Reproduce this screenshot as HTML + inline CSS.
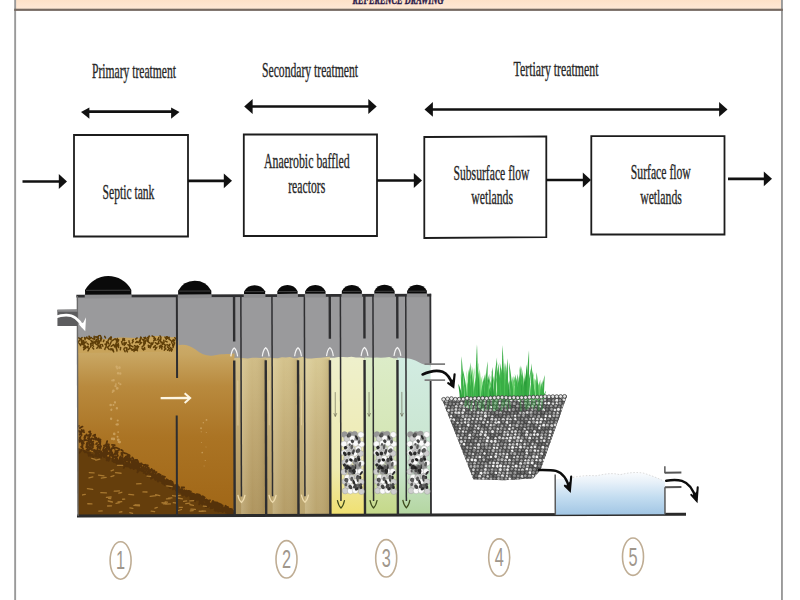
<!DOCTYPE html>
<html lang="en"><head><meta charset="utf-8"><title>Reference drawing - wastewater treatment train</title>
<style>
html,body{margin:0;padding:0;background:#fff;}
body{width:800px;height:600px;overflow:hidden;position:relative;font-family:"Liberation Serif",serif;}
svg{position:absolute;left:0;top:0;display:block}
.lbl{font-family:"Liberation Serif",serif;font-size:21px;fill:#262626;stroke:#262626;stroke-width:0.35px}
.num{font-family:"Liberation Sans",sans-serif;font-size:20px;fill:#a0978c}
.hdr{font-family:"Liberation Serif",serif;font-weight:bold;font-style:italic;font-size:12px;fill:#2a1848;stroke:#2a1848;stroke-width:0.4px}
</style></head><body>
<svg width="800" height="600" viewBox="0 0 800 600">
<defs>
<linearGradient id="peach" x1="0" y1="0" x2="0" y2="1"><stop offset="0" stop-color="#fde1c8"/><stop offset="1" stop-color="#fee8d6"/></linearGradient>
<linearGradient id="septic" gradientUnits="userSpaceOnUse" x1="0" y1="340" x2="0" y2="515"><stop offset="0" stop-color="#ccac6c"/><stop offset="0.08" stop-color="#c8a662"/><stop offset="0.26" stop-color="#b98a3e"/><stop offset="0.55" stop-color="#ab7424"/><stop offset="1" stop-color="#a06616"/></linearGradient>
<linearGradient id="c1" x1="0" y1="0" x2="0" y2="1"><stop offset="0" stop-color="#d0bc86"/><stop offset="0.5" stop-color="#bea670"/><stop offset="1" stop-color="#ae945e"/></linearGradient>
<linearGradient id="c2" x1="0" y1="0" x2="0" y2="1"><stop offset="0" stop-color="#d4c28c"/><stop offset="0.5" stop-color="#c2ac76"/><stop offset="1" stop-color="#b49c66"/></linearGradient>
<linearGradient id="c3" x1="0" y1="0" x2="0" y2="1"><stop offset="0" stop-color="#d8c994"/><stop offset="0.5" stop-color="#c6b27e"/><stop offset="1" stop-color="#baa46e"/></linearGradient>
<linearGradient id="c4" x1="0" y1="0" x2="0" y2="1"><stop offset="0" stop-color="#eef0cc"/><stop offset="0.7" stop-color="#eeeab0"/><stop offset="1" stop-color="#f0e070"/></linearGradient>
<linearGradient id="c5" x1="0" y1="0" x2="0" y2="1"><stop offset="0" stop-color="#dcecc8"/><stop offset="0.7" stop-color="#d2e4b0"/><stop offset="1" stop-color="#c4d888"/></linearGradient>
<linearGradient id="c6" x1="0" y1="0" x2="0" y2="1"><stop offset="0" stop-color="#d2ece2"/><stop offset="0.7" stop-color="#c8e4cc"/><stop offset="1" stop-color="#b4d6a0"/></linearGradient>
<linearGradient id="water" x1="0" y1="0" x2="0" y2="1"><stop offset="0" stop-color="#fafcfe"/><stop offset="0.22" stop-color="#e8f1f9"/><stop offset="0.6" stop-color="#c2dcf0"/><stop offset="1" stop-color="#a2c6e4"/></linearGradient>
<linearGradient id="hsh" x1="0" y1="0" x2="1" y2="0"><stop offset="0" stop-color="#fffbe0" stop-opacity="0.22"/><stop offset="0.45" stop-color="#fffbe0" stop-opacity="0"/><stop offset="1" stop-color="#5a3c00" stop-opacity="0.16"/></linearGradient>
</defs>

<rect x="16" y="0" width="766" height="9" fill="url(#peach)"/>
<rect x="14.2" y="0" width="1.9" height="600" fill="#9a9a9a"/>
<rect x="781" y="0" width="1.9" height="600" fill="#9a9a9a"/>
<rect x="14.2" y="8.7" width="768.7" height="2.2" fill="#766a62"/>
<text class="hdr" x="352.5" y="3.7" textLength="91" lengthAdjust="spacingAndGlyphs">REFERENCE DRAWING</text>
<polygon points="74,135 188,135 188,236.5 74,236.5" fill="#fff" stroke="#1c1c1c" stroke-width="1.8"/>
<polygon points="243.8,134.5 377,134.5 377,236 243.8,236" fill="#fff" stroke="#1c1c1c" stroke-width="1.8"/>
<polygon points="424.3,137 546.3,136.5 546.3,237.2 424.3,238" fill="#fff" stroke="#1c1c1c" stroke-width="1.8"/>
<polygon points="591.3,136.2 724.5,136.2 724.5,234.5 591.3,234.5" fill="#fff" stroke="#1c1c1c" stroke-width="1.8"/>
<text class="lbl" x="92" y="78" textLength="84.0" lengthAdjust="spacingAndGlyphs" style="font-size:21px">Primary treatment</text>
<text class="lbl" x="262" y="77" textLength="96.0" lengthAdjust="spacingAndGlyphs" style="font-size:21px">Secondary treatment</text>
<text class="lbl" x="513.6" y="76" textLength="84.9" lengthAdjust="spacingAndGlyphs" style="font-size:21px">Tertiary treatment</text>
<text class="lbl" x="102.6" y="199" textLength="51.8" lengthAdjust="spacingAndGlyphs" style="font-size:21px">Septic tank</text>
<text class="lbl" x="264" y="168" textLength="85.8" lengthAdjust="spacingAndGlyphs" style="font-size:21px">Anaerobic baffled</text>
<text class="lbl" x="288.2" y="193" textLength="37.0" lengthAdjust="spacingAndGlyphs" style="font-size:21px">reactors</text>
<text class="lbl" x="453.5" y="179.6" textLength="76.0" lengthAdjust="spacingAndGlyphs" style="font-size:21px">Subsurface flow</text>
<text class="lbl" x="471.2" y="203.8" textLength="41.8" lengthAdjust="spacingAndGlyphs" style="font-size:21px">wetlands</text>
<text class="lbl" x="630.8" y="178.6" textLength="60.0" lengthAdjust="spacingAndGlyphs" style="font-size:21px">Surface flow</text>
<text class="lbl" x="640.2" y="203.8" textLength="41.6" lengthAdjust="spacingAndGlyphs" style="font-size:21px">wetlands</text>
<line x1="88.4" y1="111.6" x2="172.1" y2="111.6" stroke="#111" stroke-width="2.7"/>
<polygon points="179.5,112.08 171.1,107.6 171.1,118.79999999999998" fill="#111"/>
<polygon points="81,112.08 89.4,107.6 89.4,118.79999999999998" fill="#111"/>
<line x1="251.6" y1="106.5" x2="369.3" y2="106.5" stroke="#111" stroke-width="2.5"/>
<polygon points="376.7,106.5 368.3,99.1 368.3,113.9" fill="#111"/>
<polygon points="244.2,106.5 252.6,99.1 252.6,113.9" fill="#111"/>
<line x1="431.9" y1="109.4" x2="720.1" y2="109.4" stroke="#111" stroke-width="2.5"/>
<polygon points="727.5,109.4 719.1,102.0 719.1,116.80000000000001" fill="#111"/>
<polygon points="424.5,109.4 432.9,102.0 432.9,116.80000000000001" fill="#111"/>
<line x1="22.5" y1="181.5" x2="59.8" y2="181.5" stroke="#111" stroke-width="2.7"/>
<polygon points="67,181.5 58.8,174.1 58.8,188.9" fill="#111"/>
<line x1="188" y1="180.8" x2="224.8" y2="180.8" stroke="#111" stroke-width="2.7"/>
<polygon points="232,180.8 223.8,173.4 223.8,188.20000000000002" fill="#111"/>
<line x1="377" y1="180.5" x2="414.8" y2="180.5" stroke="#111" stroke-width="2.7"/>
<polygon points="422,180.5 413.8,173.1 413.8,187.9" fill="#111"/>
<line x1="546.3" y1="180" x2="583.8" y2="180" stroke="#111" stroke-width="2.7"/>
<polygon points="591,180.0 582.8,172.6 582.8,187.4" fill="#111"/>
<line x1="728" y1="178.8" x2="764.8" y2="178.8" stroke="#111" stroke-width="2.7"/>
<polygon points="772,178.8 763.8,171.4 763.8,186.20000000000002" fill="#111"/><g transform="rotate(-0.17 380 515.2)">
<defs><clipPath id="c1clip"><rect x="78.6" y="296" width="98" height="219"/></clipPath><clipPath id="c12clip"><rect x="78.6" y="296" width="155.5" height="219"/></clipPath></defs>
<rect x="78" y="295" width="353" height="72" fill="#9a9a9c"/>
<rect x="78" y="340" width="101" height="175.20000000000005" fill="url(#septic)"/>
<path d="M177,345 C185,343 190,345 196,349 C202,354 208,356 214,355 C222,353 228,354 235,353 L235,515.2 L177,515.2 Z" fill="url(#septic)"/>
<path d="M234.7,357.5 L239.2,357.4 L243.7,357.6 L248.2,358.2 L252.7,357.4 L257.2,357.5 L261.7,357.6 L266.2,357.0 L266.2,515.2 L234.7,515.2 Z" fill="url(#c1)"/>
<path d="M266.2,357.5 L270.2,357.5 L274.3,357.7 L278.3,358.0 L282.4,356.9 L286.4,357.2 L290.4,356.8 L294.5,358.0 L298.5,357.8 L298.5,515.2 L266.2,515.2 Z" fill="url(#c2)"/>
<path d="M298.5,357.5 L303.1,356.8 L307.6,358.3 L312.2,358.2 L316.7,357.7 L321.3,357.7 L325.8,357.0 L330.4,356.7 L330.4,515.2 L298.5,515.2 Z" fill="url(#c3)"/>
<path d="M330.4,357.5 L334.7,357.5 L339.0,356.8 L343.4,357.0 L347.7,357.1 L352.0,356.7 L356.4,357.4 L360.7,357.4 L365.0,358.0 L365,515.2 L330.4,515.2 Z" fill="url(#c4)"/>
<path d="M365,357.5 L369.1,357.5 L373.2,357.7 L377.3,357.5 L381.4,357.8 L385.6,357.4 L389.7,357.1 L393.8,358.3 L397.9,358.3 L397.9,515.2 L365,515.2 Z" fill="url(#c5)"/>
<path d="M397.9,357.5 L409,358.5 C416,359.5 420,363.5 426,365 L431,365.3 L431,515.2 L397.9,515.2 Z" fill="url(#c6)"/>
<rect x="241.2" y="359" width="25.0" height="156.2" fill="url(#hsh)"/>
<rect x="272.7" y="359" width="25.8" height="156.2" fill="url(#hsh)"/>
<rect x="305.0" y="359" width="25.4" height="156.2" fill="url(#hsh)"/>
<path d="M78,447 L95,452 L115,458 L135,465 L155,474 L177,486 L195,496 L215,505 L234.5,510 L234.5,515.2 L78,515.2 Z" fill="#653e0c"/>
<path d="M208.4,503.3l1.0,1.5M123.5,451.6l-1.6,1.4M209.4,501.6l-3.2,0.4M79.1,429.9l-2.2,0.6M230.0,509.5l2.6,0.6M198.9,496.1l1.9,0.5M227.5,510.2l1.7,0.6M94.6,434.0l-1.3,1.0M165.1,479.6l2.4,1.7M99.2,449.8l2.1,0.8M111.8,448.6l-3.1,0.3M125.8,463.5l1.7,1.3M210.6,503.8l3.4,1.1M111.8,448.4l-1.5,1.3M124.6,452.3l2.5,0.7M116.4,456.1l0.9,2.1M226.7,508.7l-0.8,3.2M107.2,443.8l-3.0,0.9M117.4,450.2l-2.4,2.5M109.3,458.5l-2.5,1.0M143.9,464.3l3.5,0.4M115.7,457.3l2.2,2.3M170.9,482.1l2.5,1.5M89.6,436.0l-0.6,3.2M173.6,483.7l-1.6,0.4M81.6,433.0l0.2,1.3M106.1,447.6l-0.3,1.5M134.8,467.0l-2.8,0.2M185.4,491.6l1.2,0.5M81.8,449.1l-2.1,2.8M82.3,442.9l0.2,2.9M128.1,465.6l2.4,0.6M192.5,497.1l-2.0,2.1M201.2,501.3l1.3,2.5M217.7,508.0l0.8,3.0M212.0,504.0l-0.8,2.0M168.7,482.6l2.6,0.7M232.0,511.9l-1.4,1.6M192.2,495.1l0.6,3.2M91.9,449.1l2.6,0.2M153.1,471.0l-1.4,1.9M173.6,486.8l0.9,0.9M125.4,461.0l1.3,1.0M218.5,507.0l0.6,3.3M129.4,462.6l1.8,1.3M203.1,502.2l-2.0,0.8M168.8,481.0l2.2,1.0M207.9,503.9l-2.1,2.7M121.6,452.2l0.3,1.8M112.0,451.2l-0.9,2.2M127.6,463.7l-2.3,0.1M90.5,430.5l-1.2,0.5M188.1,492.9l1.8,2.6M81.9,429.1l0.2,1.2M206.8,499.4l1.2,0.6M175.9,485.9l-1.1,2.5M203.3,502.5l-0.9,1.4M152.2,470.0l2.3,0.1M189.0,490.9l1.3,1.5M186.4,491.7l-1.1,2.8M139.6,468.4l-1.3,0.4M222.6,508.6l2.1,0.9M175.3,487.7l1.0,2.4M214.4,506.5l-2.3,0.4M179.3,486.5l-2.0,2.4M177.8,488.3l2.6,2.1M230.0,511.8l-0.4,3.1M128.3,464.7l-1.8,0.9M91.7,442.4l-0.5,3.0M154.1,469.7l-1.1,0.8M202.2,496.8l1.5,2.7M100.6,440.0l-0.2,2.9M208.4,503.2l-2.3,0.4M225.2,506.0l1.9,1.6M123.7,460.9l-1.0,2.2M208.9,502.6l1.2,1.8M209.2,504.8l2.6,2.0M228.1,509.4l-0.4,1.6M161.5,477.8l-0.4,1.2M228.3,509.4l1.0,3.0M165.7,480.2l-0.8,1.1M162.0,477.5l-3.4,0.5M120.5,456.2l2.1,0.9M204.6,502.8l0.1,2.0M108.5,453.1l-1.5,0.4M199.0,494.0l1.4,1.0M184.8,489.8l1.2,2.4M95.2,449.9l2.2,0.9M117.6,450.4l-0.2,2.2M136.9,463.5l-0.1,1.6M110.5,454.1l-1.0,2.2M210.1,503.4l-1.6,0.8M193.1,496.9l-1.9,0.6M127.5,464.6l2.8,2.3M215.7,502.5l2.2,2.0M119.0,449.4l-1.9,1.1M200.7,495.8l0.9,2.7M81.7,431.1l-1.8,2.8M228.1,507.4l-0.1,3.0M156.4,476.0l1.1,0.8M95.4,433.7l-0.4,2.4M166.6,478.6l1.4,0.9M208.4,505.0l-1.4,0.3M88.5,452.1l0.4,3.0M129.3,460.3l-0.1,2.2M171.5,480.6l-1.9,2.6M106.9,449.6l-1.5,1.6M109.0,445.1l-0.0,1.2M216.6,507.3l-2.0,2.6M175.9,485.7l-0.7,2.3M230.3,511.2l2.3,2.5M193.6,497.0l-1.8,1.2M217.1,507.9l-1.7,2.5M196.8,496.2l-0.9,1.0M131.6,461.5l2.1,0.1M177.4,487.6l2.6,2.3M181.6,488.3l-1.2,2.3M161.1,476.9l-2.7,0.0M187.0,493.3l-1.3,0.1M173.8,486.1l1.5,1.6M86.8,433.6l0.5,1.3M117.6,460.7l-0.4,2.4M227.9,509.5l-2.7,0.0M203.7,496.6l-0.9,2.9M85.9,450.9l2.0,1.1M105.0,449.5l-0.5,1.3M224.6,507.7l-0.2,2.6M135.3,461.3l-1.2,2.2M122.7,460.3l0.7,1.0M116.7,446.9l2.7,1.4M139.1,469.0l-0.9,0.9M231.3,512.0l3.3,0.8M145.1,468.6l-1.8,0.2M159.6,479.2l-1.5,1.8M229.7,511.1l-0.5,1.4M175.1,485.5l1.1,0.8M160.3,474.5l0.5,2.8M149.2,469.0l-0.6,2.1M198.8,497.9l-3.5,0.0M192.1,492.8l3.1,1.2M199.8,498.9l0.8,1.7M184.5,491.0l-0.8,2.6M195.0,493.8l2.5,2.5M220.0,508.7l1.3,0.2M120.7,455.6l-0.5,1.3M162.4,475.4l2.7,0.8M163.8,479.9l0.9,2.2M111.4,449.8l-2.2,2.3M90.4,433.4l-2.2,1.5M197.4,495.0l0.4,1.8M203.7,499.0l-1.7,3.2M129.1,461.2l-2.4,2.4M144.9,467.5l3.1,1.0M91.1,432.7l-0.5,2.3M184.5,489.6l-1.1,0.9M111.8,455.1l1.9,0.5M190.6,494.9l1.0,1.2M134.1,465.2l0.6,1.4M188.2,493.0l-3.3,0.9M219.7,506.1l-1.6,1.1M127.9,458.9l-3.3,0.7M117.2,453.0l0.8,1.9M139.9,465.0l2.1,1.5M201.8,499.3l-2.2,1.3M106.2,454.5l-1.7,0.7M82.4,440.0l-0.4,2.5M227.8,509.9l-1.1,0.8M163.2,480.4l1.3,0.4M192.5,497.1l2.6,0.7M101.2,452.4l-0.8,1.6M112.9,457.1l-0.2,3.0M139.7,464.4l-2.8,0.3M155.0,474.2l-1.9,2.2M219.9,506.0l-2.4,1.5M210.4,504.8l-2.9,1.7M226.5,509.4l-0.2,2.9M202.5,498.8l0.4,1.5M193.1,497.9l0.6,1.5M110.5,450.7l2.1,2.8M88.1,437.4l2.6,1.0M198.5,495.3l2.3,0.4M168.9,484.2l1.5,0.2M107.4,445.3l2.2,2.0M170.6,481.5l1.6,1.0M105.6,454.3l1.4,2.1M204.8,500.2l2.3,2.4M219.8,505.5l-0.5,3.5M153.3,471.0l3.4,0.5M202.4,498.5l-0.2,2.4M121.3,463.1l-0.8,1.6M80.7,438.1l1.2,2.9M188.8,493.5l1.4,0.7M128.6,457.4l-2.2,1.0M177.1,489.0l1.7,1.8M102.2,453.2l3.2,0.0M209.3,504.4l1.8,0.5M189.3,490.4l0.1,2.3M226.1,509.0l-1.7,0.8M200.6,497.9l-1.4,0.4M206.3,498.9l-0.3,2.4M103.3,454.7l1.1,1.6M90.7,438.6l0.3,2.9M134.4,464.9l2.0,0.7M150.1,474.6l-2.4,1.4M80.9,435.7l-1.1,1.4M165.9,480.1l3.6,0.1M202.1,497.1l-0.7,1.8M136.9,464.8l1.2,1.6M139.4,467.2l1.2,1.2M191.6,493.2l-2.5,0.4M190.5,492.6l-1.2,0.7M100.7,438.6l-1.5,2.5M106.7,448.5l-2.3,1.3M92.9,437.7l1.3,0.7M141.7,462.6l-2.2,0.5M157.8,476.5l-2.4,2.1M138.4,463.6l0.3,1.2M140.7,468.1l-3.1,0.2M180.7,489.3l2.0,0.1M131.7,463.4l2.0,0.7M157.4,477.1l-2.3,1.4M103.4,453.6l-2.4,0.8M133.3,462.6l2.6,1.3M231.0,510.3l-2.0,2.5M109.4,458.5l-0.7,1.5M91.8,437.6l-0.7,2.8M129.7,465.4l1.0,2.1M98.1,455.5l3.1,1.4M162.7,478.8l-0.3,1.8M219.0,509.0l-2.2,1.4M97.9,452.7l2.1,2.6M116.1,455.6l-1.4,0.8M163.4,476.0l1.6,0.2M231.0,511.9l-0.9,1.7M182.4,490.8l1.0,2.4M202.8,495.6l1.9,1.4M101.0,445.5l-0.4,1.6M159.0,474.8l-0.4,2.0M177.8,484.7l-0.8,1.3M226.7,509.3l0.2,2.2M175.1,486.6l-2.2,2.1M153.8,476.4l-2.8,1.6M142.0,466.5l-0.7,3.3M160.0,477.0l0.7,3.3M128.4,454.2l-2.2,2.6M191.7,494.9l-1.4,1.4M170.4,480.3l2.1,0.9M156.4,474.1l2.8,0.5M160.0,475.2l1.2,1.8M115.3,446.6l-3.4,1.0M181.5,490.9l0.8,3.0M113.2,456.9l-0.7,3.3M94.2,450.8l2.3,0.9M225.5,505.3l1.4,1.3M129.0,454.8l-3.0,1.0M140.2,464.8l-0.3,1.3M83.8,449.5l1.4,2.0M222.8,509.9l0.1,1.7M124.5,463.5l-1.6,0.5M208.0,500.8l0.1,1.6M214.5,507.7l2.2,1.6M108.5,457.2l1.4,0.2M190.8,492.7l-3.1,1.0M188.8,490.5l-2.0,2.8M147.6,466.3l1.5,1.2M188.4,490.7l1.5,1.0M181.3,490.5l1.1,2.6M215.2,505.6l1.4,1.3M221.7,508.0l1.8,2.1M92.9,454.0l0.5,2.4M160.7,474.1l-0.6,1.8M117.6,459.4l1.8,0.5M195.4,494.4l1.6,1.9M107.7,457.2l-1.3,0.0M150.1,473.1l1.2,3.2M156.0,472.3l-0.5,2.7M134.4,464.7l-1.9,1.5M156.9,477.1l-1.3,2.1M225.5,506.7l-1.2,1.0M172.6,482.8l0.6,3.0M200.1,500.1l1.8,1.6M113.1,454.4l0.0,1.3M170.9,484.3l-0.7,3.2M106.7,443.5l2.4,0.1M145.9,468.7l2.1,2.3M90.2,451.7l-0.5,2.4M200.9,496.8l1.7,0.9M85.5,436.2l-0.9,2.3M119.8,457.4l3.0,0.9M105.4,445.0l2.5,1.4M207.0,503.1l2.1,0.4M135.1,460.4l-1.3,0.1M154.4,475.3l-1.5,0.1M149.1,472.6l1.8,0.2M216.1,502.7l0.6,1.8M144.4,464.3l3.6,0.4M196.5,498.1l1.4,1.2M164.0,477.6l0.4,3.4M135.1,461.8l-2.7,0.2M85.1,438.4l-0.6,1.2M131.9,463.9l-2.4,1.1M215.5,504.8l1.1,3.0M137.7,467.4l1.6,1.3M107.3,451.4l1.5,0.8M112.0,452.1l1.3,1.9M232.0,511.2l-1.5,0.7M138.0,460.3l-1.2,1.7M121.3,449.1l1.5,1.0M139.5,469.4l-1.2,1.4M134.6,459.4l-2.0,0.4M196.9,498.2l-1.2,0.4M128.6,459.0l3.2,0.9M129.1,463.6l-0.1,1.3M139.7,463.3l1.5,0.2M170.7,480.2l1.2,1.8M162.8,476.1l-1.1,1.5M190.7,494.8l1.5,0.8M122.2,460.1l0.6,2.0M212.4,501.8l1.2,1.6M112.2,444.1l2.7,0.2M166.2,482.1l-1.9,0.1M182.3,491.6l2.2,1.8M181.7,491.4l-1.6,0.7M176.4,484.2l0.5,2.1M88.3,439.4l1.2,2.1M122.1,452.3l0.7,2.2M104.7,452.3l1.0,1.0M131.6,461.0l2.3,1.2M187.0,492.2l-0.7,1.0M139.3,464.4l2.1,0.4M87.4,441.7l-0.6,2.2M129.1,457.6l2.0,0.2M216.3,505.8l1.9,2.1M107.6,450.2l-1.2,3.3M134.8,464.1l-3.0,0.5M175.6,486.6l0.6,2.1M121.5,461.3l-2.0,0.8M219.1,503.0l2.2,1.0M126.5,457.7l-1.6,0.1M108.6,446.2l-0.9,1.5M79.1,439.3l0.6,1.7M155.0,474.9l-0.4,2.7M165.4,481.8l-2.0,0.2M132.4,466.0l1.6,2.4M186.1,492.5l-3.2,0.4M103.6,451.1l0.1,2.6M135.9,461.7l-1.7,1.8M115.5,450.2l0.9,1.4M158.1,473.2l1.3,0.3M94.7,449.2l2.1,0.8M197.9,497.2l2.9,1.6M213.0,500.5l1.7,1.7M201.7,498.2l-1.1,1.4M189.2,492.0l1.5,2.6M208.8,504.2l-0.5,2.2M187.9,493.1l-2.7,1.6M98.3,444.0l-0.9,1.5M107.4,440.3l-0.9,3.3M228.4,507.6l-1.2,1.8M176.2,485.9l-3.5,0.7M86.5,446.3l1.2,0.5M123.1,460.7l-1.5,0.0M129.8,454.6l-0.3,2.3M136.5,462.3l-2.6,1.9M122.7,456.1l-1.1,2.8M230.1,509.5l-1.4,2.1M202.2,496.6l1.2,0.8M222.8,506.1l0.1,1.5M128.8,453.8l-0.3,1.5M175.3,484.7l1.8,1.5M135.3,461.1l1.3,0.2M216.5,504.1l1.6,0.4M153.4,476.3l2.6,1.9M153.6,472.6l-1.8,1.2M87.9,443.2l-1.3,2.4M121.7,462.6l-3.3,1.5M147.3,472.4l-1.1,1.2M83.1,430.8l1.3,0.5M134.3,465.5l1.4,2.0M80.6,430.7l-1.2,0.2M160.2,478.8l-2.4,1.8M140.5,468.9l-2.6,1.6M230.8,508.4l-2.1,0.3M187.6,490.7l-1.2,0.4M167.8,479.9l0.7,2.0M180.2,489.9l1.1,2.5M133.5,460.3l-1.9,0.6M93.5,440.7l-1.2,1.2M193.5,495.5l-0.9,1.4M95.3,436.9l1.0,2.0M80.5,438.8l0.6,1.9M161.7,480.4l2.7,2.0M128.4,463.1l3.4,1.2M145.2,472.3l1.7,1.4M187.7,490.3l1.8,2.1M224.9,507.3l1.7,1.1M231.4,508.9l-0.9,1.9M178.2,486.0l-1.2,3.1M210.9,503.9l-0.0,2.6M96.6,452.5l-1.3,1.9M181.5,488.7l0.6,1.6M171.5,484.0l-0.1,1.3M175.6,485.7l-0.8,2.5M222.5,505.3l0.4,3.6M192.7,493.6l-2.4,2.6M140.9,469.6l3.3,1.4M154.6,471.9l-2.4,1.3M223.4,509.4l-2.0,1.4M232.0,508.7l-2.7,1.2M117.6,459.4l0.4,2.5M212.3,501.5l1.8,2.1M90.3,444.3l-1.9,1.5M116.2,458.8l-2.7,1.3M163.6,481.2l-1.3,0.9M135.3,459.1l2.0,0.2M212.2,505.8l1.5,0.6M138.8,468.5l-1.2,3.1M90.1,453.3l2.2,1.6M214.0,505.9l2.3,1.6M145.3,464.1l0.9,1.7M176.0,485.1l-0.9,2.7M106.8,443.0l-1.3,1.9M98.9,438.2l-2.6,0.5M134.1,459.6l-2.9,0.0M192.4,493.8l1.2,1.8M101.5,450.5l0.7,3.1M142.0,466.7l-0.1,3.5M132.3,464.2l1.9,1.7M122.9,462.3l2.0,2.5M183.2,489.8l-2.1,0.4M193.5,495.8l0.2,1.3M143.5,466.0l0.6,3.4M124.1,460.7l-0.9,1.5M142.4,463.7l-1.7,0.6M143.8,466.7l-2.7,1.7M170.0,483.0l3.2,1.0M92.6,441.0l1.1,2.7M182.1,488.6l-3.3,1.1M82.6,442.9l0.2,2.1M150.6,470.2l-1.4,2.3M228.4,511.4l-2.1,0.0M206.6,502.1l-2.1,2.9M89.2,441.7l0.8,2.6M112.6,460.1l1.7,1.3M101.0,445.7l-1.0,1.0M104.7,452.1l-1.1,2.8M118.0,459.6l-2.0,2.3M97.4,445.6l3.3,0.2M224.5,510.0l2.0,0.2M161.5,478.0l2.9,1.1M125.4,459.0l2.4,1.0M99.0,437.5l-0.1,1.9M198.7,495.9l0.4,1.3M112.5,452.1l-0.4,2.3M210.0,499.7l-1.4,0.7M228.4,509.5l0.8,2.6M212.0,506.5l0.3,1.2M102.7,454.2l-2.0,2.2M103.1,449.3l1.5,0.1M125.3,464.2l-1.4,2.9M86.1,439.2l1.8,0.4M96.2,453.9l1.2,2.0M179.7,490.0l-2.5,0.4M156.1,477.1l0.6,1.8M192.9,493.3l0.9,2.0M152.4,471.6l0.5,2.2M86.6,449.1l2.4,0.5M163.3,478.2l1.1,0.9M136.3,462.2l0.1,1.8M194.4,495.6l2.2,0.1M227.8,506.5l-1.0,3.4M135.3,464.5l0.8,1.8M172.8,484.8l1.3,2.0M158.5,477.5l1.4,0.2M117.8,451.8l-1.8,1.3M211.4,502.7l1.8,2.2M92.2,453.9l-1.7,1.0M127.9,463.6l-2.2,1.7M87.7,447.9l2.7,0.4M164.0,481.6l-0.5,1.1M222.9,508.8l-0.3,1.2M192.5,494.2l-1.9,3.0M220.2,503.8l-1.7,1.4M194.7,495.0l0.4,2.2M97.2,442.2l-0.9,1.0M96.8,452.5l-1.3,2.2M96.4,436.8l2.0,2.9M165.3,482.2l1.7,1.4M161.6,479.7l3.1,1.2M151.7,468.3l0.4,2.1M182.9,491.9l0.1,2.9M138.8,467.9l2.8,1.0M104.6,450.9l1.6,1.2M104.2,446.3l-0.7,2.3M138.8,466.1l-1.8,1.0M168.9,482.0l-2.0,0.1M186.4,490.0l2.0,2.2M167.5,479.9l3.1,0.6M137.1,466.5l0.6,2.6M165.2,482.4l-2.2,0.6M154.0,471.5l-1.0,1.0M126.2,463.3l2.9,0.3M166.5,481.0l0.8,1.4M225.4,509.6l-1.2,0.8M199.7,496.1l2.0,1.5M172.9,482.3l-1.9,1.7M217.5,508.2l-1.2,1.7M225.5,509.4l2.0,2.6M190.9,492.4l0.9,0.9M161.7,476.3l1.1,1.4M99.3,446.7l1.2,1.4M121.7,457.3l-1.5,0.6M211.4,505.5l-0.8,2.4M192.0,494.7l-1.6,3.0M198.4,495.8l3.4,0.6M134.9,466.1l1.7,1.5M136.1,466.1l-2.4,0.4M166.2,479.6l2.6,2.3M96.0,454.2l-0.7,1.2M217.9,503.1l-0.3,1.5M231.3,509.6l-1.2,0.5M181.6,486.7l2.6,0.2M230.4,510.8l-2.8,1.4M159.3,473.5l-0.1,1.6M160.1,476.0l0.0,1.7M187.6,491.7l0.1,1.4M154.0,473.8l-2.5,0.2M99.8,443.1l1.4,2.5M223.6,510.1l-3.4,0.5M211.2,505.9l2.4,0.2M170.0,483.7l-0.9,2.5M222.7,504.9l-0.2,3.5M83.9,429.4l-3.2,1.4M82.7,425.7l-2.5,1.5M159.0,476.8l-2.3,2.2M79.1,425.0l-2.8,2.1M207.3,500.9l1.0,1.8M81.3,445.7l1.8,1.9M160.0,475.9l-1.2,2.0M115.1,459.5l1.3,0.8M118.0,455.1l-1.6,1.3M115.7,456.5l1.7,1.8M118.3,460.6l1.5,1.0M125.4,456.7l-1.8,2.1M200.7,498.8l2.9,0.7M116.6,450.3l1.0,3.4M136.1,462.5l-3.4,1.0M138.6,461.5l-2.4,1.9M131.1,464.6l0.7,1.8M170.4,484.2l0.2,3.2M81.1,439.0l0.5,1.3M219.8,504.2l2.6,2.0M226.9,510.8l1.6,3.0M100.8,451.7l-1.6,0.3M99.9,450.7l-2.7,1.1M225.2,508.1l0.6,1.4M121.0,462.4l1.6,0.4M132.5,456.7l0.9,1.3M97.9,447.0l-0.3,2.5M196.4,496.8l-1.4,0.2M113.3,445.6l1.7,2.5M221.3,507.0l1.7,1.0M166.5,479.5l-2.8,2.1M149.8,472.0l-2.1,1.1M108.4,458.2l-1.3,0.1M196.5,496.0l1.6,0.3M105.6,453.9l1.0,0.8M112.8,457.5l0.0,2.8M150.6,469.1l1.9,0.1M85.4,434.7l-0.8,1.9M151.8,473.2l1.1,1.7M215.1,505.5l0.6,2.4M149.9,470.0l-1.7,0.5M223.1,509.4l-1.5,0.6M157.4,478.2l1.0,1.3M190.4,492.0l-0.4,1.5M224.9,507.1l2.7,0.9M132.5,462.8l0.0,3.4M158.2,475.1l2.4,0.0M120.4,457.5l-0.9,2.1M92.9,444.1l0.2,2.7M228.4,508.4l0.3,1.4M202.2,497.3l-2.7,1.6M118.2,460.9l-0.0,2.2M164.5,481.9l0.1,2.4M123.8,462.3l-0.0,2.0M109.3,446.2l-2.7,1.6M229.7,511.5l-1.7,2.6M188.6,494.5l-1.3,0.9M204.5,498.8l2.5,2.4M82.5,439.9l1.5,2.7M173.0,486.4l-2.7,0.6M88.9,446.2l3.3,1.2M213.2,502.8l2.4,1.6M195.7,499.3l-0.6,1.4M190.9,490.8l-2.8,1.2M199.9,500.5l-0.7,3.4M177.4,487.0l0.7,1.9M82.5,430.2l-1.4,1.0M179.7,489.5l-1.4,2.0M127.7,457.1l2.3,1.5M184.7,493.0l1.7,3.0M219.4,505.1l-2.7,0.4M227.2,510.2l0.9,1.6M159.5,476.5l3.2,0.4M161.5,477.6l-1.3,1.3M109.7,453.0l1.4,1.4M89.8,430.8l1.1,2.2M225.1,509.0l0.6,2.1M115.2,453.7l-1.5,0.2M145.7,470.5l-1.9,1.7M177.7,489.2l-1.7,0.5M162.3,481.0l-0.1,1.6M197.0,493.5l2.2,1.1M121.0,459.7l-1.3,1.5M197.1,497.9l-1.4,1.8M145.6,465.4l0.3,3.5M215.8,501.8l1.8,0.4M185.9,491.1l2.0,0.9M167.3,482.4l0.8,2.6" stroke="#55320a" stroke-width="1.8" stroke-linecap="round" fill="none" clip-path="url(#c12clip)"/>
<path d="M165.2,501.2l2.2,0.4M96.1,459.4l3.9,-1.0M89.1,476.9l3.9,-0.8M199.2,510.7l3.9,0.2M119.4,511.4l2.5,-0.4M107.6,505.2l4.0,-0.2M129.9,507.1l3.0,0.6M168.5,497.4l3.5,-0.1M136.6,483.1l4.5,-0.2M118.0,501.0l3.8,-0.1M189.9,504.0l3.5,0.8M202.0,510.3l3.6,0.3M172.6,494.9l4.9,0.9M162.0,502.1l3.7,0.3M108.2,500.2l4.2,1.0M122.7,498.5l2.1,-0.2M175.8,495.3l4.5,-0.6M129.8,511.9l2.8,0.8M87.5,487.8l5.3,0.7M128.9,493.6l4.8,0.5M173.3,502.0l3.0,0.4M150.2,495.6l5.9,-0.7M177.6,497.4l4.9,0.9M114.3,490.4l4.1,-0.0M100.9,491.8l5.6,0.3M116.1,502.5l3.7,-0.7M155.7,494.0l4.1,1.0M151.2,510.5l3.4,0.5M89.4,471.7l4.8,0.4M183.6,500.7l3.1,-0.3M147.2,475.4l3.5,0.3M98.6,474.2l5.5,0.9M111.2,470.0l2.5,-0.8M179.3,506.7l3.1,-0.0M166.9,485.3l5.3,0.7M106.4,496.5l4.8,-0.3M189.8,500.4l3.9,-0.4M135.2,504.1l4.3,0.2M203.4,505.7l2.9,0.2M98.8,510.2l3.4,-0.1M133.9,504.7l5.7,0.4M101.4,477.2l4.8,-0.6M190.3,510.3l2.9,-0.3M108.6,497.5l2.2,0.4M87.8,502.9l4.2,0.2M91.9,457.6l3.4,1.0M155.0,507.5l2.3,-0.8M82.6,494.1l2.7,-0.5M163.4,503.2l3.3,-0.1M116.1,490.4l3.4,-0.3M111.1,475.8l3.0,-1.0M118.8,492.3l3.1,-0.8M185.8,503.0l4.0,-0.4M190.9,508.6l4.5,0.3M166.5,498.3l3.7,-0.2M143.0,491.2l4.1,0.1M178.6,509.9l2.9,-1.0M117.6,464.5l5.2,0.2M115.7,471.8l5.5,0.7M165.5,503.4l5.0,-0.1" stroke="#a87830" stroke-width="1.3" stroke-linecap="round" fill="none"/>
<path d="M78,338 C90,334 100,340 112,338 C125,335 135,339 150,336 C160,334 170,338 177,336 L177,351 L78,352 Z" fill="#c8a35a"/>
<path d="M117.5,343.6l-2.2,2.3M167.9,346.2l1.3,1.0M173.2,343.4l-0.0,1.8M162.6,341.4l-1.1,0.7M175.3,337.1l1.4,1.4M141.0,337.4l-0.3,3.1M121.2,346.7l-0.4,2.3M95.8,340.4l-1.9,1.7M100.0,340.1l-0.1,1.9M135.0,344.9l1.4,0.8M142.7,338.5l2.2,1.7M111.4,347.7l-0.1,1.4M140.8,339.4l-1.6,2.1M152.6,335.3l2.4,1.5M92.6,337.4l1.3,0.8M124.9,349.4l0.7,1.6M159.3,336.9l-0.6,2.3M169.7,336.6l-0.2,2.0M158.9,337.8l-0.7,1.4M127.0,349.6l0.9,1.5M168.0,344.2l1.3,0.9M102.0,338.2l-1.7,2.0M174.0,345.1l-0.5,1.9M148.6,341.1l1.8,1.3M116.3,343.2l1.0,0.7M174.3,341.4l0.6,1.4M136.5,348.2l1.4,1.7M127.5,347.1l-0.2,1.7M97.4,343.6l2.3,1.8M82.2,338.8l0.3,2.9M139.1,345.7l-1.3,2.3M84.0,346.5l1.1,1.1M82.6,336.7l-1.4,1.4M87.4,336.2l-1.6,1.8M167.9,336.2l1.3,1.2M97.5,335.9l1.5,2.0M95.3,336.7l-0.1,1.9M93.5,341.9l0.0,2.0M125.0,338.0l-0.3,1.5M111.6,335.9l-1.7,1.7M117.0,343.4l-1.1,0.9M116.2,345.4l0.7,2.5M167.1,336.1l0.8,1.6M151.8,344.4l-1.2,2.8M97.0,339.5l-1.8,2.1M89.9,347.4l-1.4,2.6M114.1,343.7l-2.4,1.8M135.0,348.1l-2.5,1.5M142.6,347.8l1.4,1.4M133.7,338.8l-0.7,1.1M140.0,339.7l0.9,2.2M97.6,340.1l-2.1,2.4M104.5,339.3l-0.6,1.5M161.4,337.3l-0.2,1.9M79.1,336.9l1.6,0.9M105.7,347.3l-0.4,1.3M148.5,337.8l0.2,2.6M162.1,346.6l0.3,1.8M117.6,340.6l-1.0,1.9M145.5,337.2l-1.7,2.6M98.7,342.2l0.8,0.9M119.2,339.2l-1.0,2.1M144.4,347.6l1.1,0.8M82.5,342.1l-1.6,2.0M132.1,348.0l0.4,1.4M141.2,336.3l0.7,1.0M94.7,335.5l-0.1,1.5M137.5,346.9l0.5,1.4M144.1,344.7l-1.6,1.6M135.5,347.7l-1.1,3.0M106.8,344.7l-0.5,2.1M80.0,342.7l1.2,2.1M128.4,343.9l1.2,0.9M137.9,345.1l-2.4,1.5M107.1,340.8l0.0,2.8M117.3,348.2l0.1,2.0M125.5,341.9l-1.1,0.7M117.8,337.7l-0.5,1.4M93.5,340.1l-0.5,2.7M122.1,341.0l0.9,2.8M99.7,334.6l-1.5,1.5M91.8,336.6l-1.9,1.9M85.2,344.4l1.2,1.7M137.7,337.2l-1.5,1.2M93.0,344.6l1.0,0.8M142.2,341.7l-2.0,1.9M99.0,335.1l-0.4,2.1M108.2,346.7l1.5,2.0M86.1,347.3l-1.9,1.5M110.1,344.6l-2.1,1.9M83.0,342.6l1.6,1.6M171.2,347.1l1.2,2.0M109.8,337.6l-1.3,2.4M111.7,341.0l-1.0,2.5M124.0,338.9l1.2,1.0M159.2,340.8l-0.5,1.9M114.8,338.5l-2.0,1.4M91.5,343.8l-0.4,2.4M153.7,342.1l-2.2,2.3M118.5,344.9l0.6,1.9M114.5,344.3l0.6,1.8M161.1,344.8l-1.0,2.7M116.4,344.6l0.9,1.6M88.8,345.3l-1.4,1.2M115.7,337.9l1.7,1.8M165.5,336.4l1.4,2.3M100.9,345.5l0.7,2.0M98.6,338.1l0.3,1.7M149.7,335.2l-0.7,2.7M110.6,338.0l1.0,0.9M155.8,342.0l1.8,1.1M137.1,340.7l1.7,1.1M113.3,348.2l0.9,2.9M163.2,342.2l2.0,1.9M87.7,342.5l1.1,0.9M118.8,338.8l-2.0,1.2M166.0,347.4l-1.2,2.2M124.9,347.2l-0.5,1.4M130.4,342.6l-0.0,2.6M145.8,342.4l-1.6,2.4M88.0,337.3l1.3,0.9M172.0,340.3l0.3,2.1M133.7,340.6l-1.0,1.6M161.0,344.8l2.0,1.1M88.0,346.5l1.4,1.0M153.6,341.9l-0.7,1.9M129.5,340.0l0.2,1.7M144.5,336.8l1.1,1.1M130.7,344.7l2.8,1.5M160.0,339.4l1.9,2.1M173.8,338.9l-1.4,2.5M169.9,338.7l1.1,1.0M101.4,345.8l-1.6,1.4M91.4,339.4l1.3,2.1M148.8,344.6l0.3,2.1M124.4,342.1l0.3,2.6M148.0,339.1l-0.2,1.5M83.4,341.1l0.4,1.2M86.7,341.0l-2.3,1.8M81.9,340.4l0.5,1.7M92.3,342.3l-1.3,1.5M96.1,335.9l2.4,1.4M101.4,343.6l-0.8,1.1M97.3,338.5l-1.4,2.3M108.4,340.9l0.7,2.0M156.0,337.8l-1.8,2.5M137.3,348.6l-1.2,1.0M175.2,339.4l-0.8,1.2M108.4,340.8l-1.6,2.0M98.8,345.7l-1.5,1.6M83.9,339.7l0.9,1.8M170.4,343.6l-0.8,1.1M102.8,343.8l0.6,1.6M85.1,336.6l0.5,2.2M117.8,343.8l0.5,1.1M144.4,339.7l0.1,2.0M105.2,335.5l0.8,1.6M90.1,335.5l0.1,1.2M164.3,339.7l0.3,2.2M81.3,337.8l-1.3,1.9M126.8,341.8l-1.1,1.9M155.9,344.9l-1.9,1.8M144.4,341.3l-0.1,2.4M129.9,347.7l-0.9,1.0M151.9,342.3l-0.6,3.0M83.8,342.1l0.9,3.0M95.0,341.7l1.9,1.9M126.4,346.7l1.2,2.7M79.7,339.6l-1.3,2.6M154.4,338.0l2.1,1.6M150.0,335.5l-1.8,1.4M82.3,342.4l0.5,1.3M164.9,346.9l1.5,1.4M105.5,343.3l1.4,1.2M118.8,342.8l0.4,2.4M170.2,347.7l-2.1,1.9M101.2,337.6l0.3,2.5M137.8,340.9l-1.5,1.0M80.9,337.8l1.6,2.1M160.6,335.3l0.9,1.4M155.3,345.7l0.7,1.2M172.8,348.7l-0.9,1.9M151.4,344.2l0.0,1.7M129.9,345.7l0.9,2.3M93.2,346.9l1.0,1.3M172.1,348.3l-2.2,1.9M161.3,345.1l-0.2,1.3M150.0,345.2l-0.8,1.0M84.9,345.1l0.1,3.0M175.1,342.4l-0.9,2.4M146.3,339.8l-0.4,1.3M166.3,344.5l-1.2,1.7M98.9,340.1l-0.8,2.2M89.5,335.3l0.4,1.6M101.0,337.3l0.5,2.5M167.6,344.1l2.5,1.5M138.1,345.7l-0.4,1.9M111.9,336.7l-0.4,1.2M145.1,346.8l-0.8,2.3M157.4,346.5l-1.9,2.6M123.6,337.6l-0.5,2.4M162.7,342.6l0.4,1.2M159.6,342.5l-2.0,1.3M161.7,344.5l-1.8,1.1M166.0,340.4l1.6,0.9M113.1,348.4l0.4,1.7M146.0,336.5l0.8,1.8M91.1,342.5l0.5,2.8M111.9,348.0l1.4,1.8M100.9,334.7l1.3,2.7" stroke="#5e3e08" stroke-width="1.45" stroke-linecap="round" fill="none" clip-path="url(#c1clip)"/>
<g fill="#dcb87c" opacity="0.6"><circle cx="115.9" cy="385.3" r="1.2"/><circle cx="116.3" cy="383.3" r="0.9"/><circle cx="113.8" cy="390.0" r="1.3"/><circle cx="118.0" cy="423.6" r="1.2"/><circle cx="118.4" cy="431.3" r="0.9"/><circle cx="118.5" cy="372.4" r="1.3"/><circle cx="118.8" cy="441.1" r="1.0"/><circle cx="117.2" cy="407.4" r="1.2"/><circle cx="120.7" cy="372.8" r="1.2"/><circle cx="120.8" cy="383.5" r="1.1"/><circle cx="117.7" cy="367.6" r="1.0"/><circle cx="114.0" cy="379.5" r="1.2"/><circle cx="117.6" cy="387.6" r="1.4"/><circle cx="119.9" cy="441.3" r="1.4"/><circle cx="119.2" cy="382.3" r="0.9"/><circle cx="111.8" cy="408.5" r="0.9"/><circle cx="112.3" cy="437.9" r="1.3"/><circle cx="111.0" cy="404.2" r="1.3"/><circle cx="119.9" cy="366.9" r="1.3"/><circle cx="115.5" cy="401.7" r="0.9"/><circle cx="111.4" cy="418.0" r="1.2"/><circle cx="117.8" cy="436.0" r="1.0"/><circle cx="118.0" cy="419.7" r="1.1"/><circle cx="116.8" cy="423.7" r="1.1"/><circle cx="113.8" cy="404.1" r="1.0"/><circle cx="114.5" cy="433.1" r="1.3"/><circle cx="112.9" cy="391.3" r="0.9"/><circle cx="118.5" cy="439.1" r="1.4"/><circle cx="111.6" cy="409.1" r="1.0"/><circle cx="117.1" cy="365.9" r="1.2"/><circle cx="114.0" cy="438.4" r="1.0"/><circle cx="112.5" cy="379.7" r="0.9"/><circle cx="115.2" cy="401.5" r="1.1"/><circle cx="114.1" cy="438.1" r="1.3"/><circle cx="201.6" cy="441.9" r="0.5"/><circle cx="206.2" cy="446.6" r="0.5"/><circle cx="202.4" cy="452.1" r="0.8"/><circle cx="205.4" cy="460.0" r="0.6"/><circle cx="206.8" cy="419.4" r="0.9"/><circle cx="204.2" cy="465.4" r="0.5"/><circle cx="206.5" cy="432.1" r="0.5"/><circle cx="201.3" cy="427.7" r="0.9"/><circle cx="201.5" cy="431.2" r="0.6"/><circle cx="203.6" cy="422.2" r="0.7"/></g>
<path d="M161,397.5 H189.5" stroke="#fdf6e4" stroke-width="2.4" fill="none"/><path d="M185,392.6 L190.5,397.5 L185,402.4" stroke="#fdf6e4" stroke-width="2" fill="none"/>
<g stroke="#2e2e30" fill="none">
<path d="M77,295.3 H431.8" stroke-width="2.7"/>
<path d="M77,515.2 H686" stroke-width="3" stroke="#2a2a2a"/>
<path d="M78,295 V515.2" stroke-width="1.4" stroke="#6a6a6a"/>
<path d="M177.5,295 V377.5 M177,415 V515.2" stroke-width="2"/>
<path d="M234.7,295 V341 M234.7,360 V515.2" stroke-width="2.4"/>
<path d="M266.2,360 V515.2" stroke-width="2.4"/>
<path d="M298.5,360 V515.2" stroke-width="2.4"/>
<path d="M330.4,295 V338.5 M330.4,360 V515.2" stroke-width="2.4"/>
<path d="M365,295 V338.5 M365,360 V515.2" stroke-width="2.4"/>
<path d="M397.9,295 V338.5 M397.9,360 V515.2" stroke-width="2.4"/>
<path d="M241.5,295 V496" stroke-width="1.5"/>
<path d="M272.6,295 V496" stroke-width="1.5"/>
<path d="M305,295 V496" stroke-width="1.5"/>
<path d="M341,295 V501" stroke-width="1.5"/>
<path d="M373.6,295 V501" stroke-width="1.5"/>
<path d="M406.4,295 V501" stroke-width="1.5"/>
<path d="M431,294 V364 M431,381 V515.2" stroke-width="1.8"/>
</g>
<path d="M237.9,494.5 Q239.0,500 241.5,502 Q244.0,500 245.1,494.5" stroke="#efdcae" stroke-width="1.3" fill="none"/>
<path d="M269.0,494.5 Q270.1,500 272.6,502 Q275.1,500 276.20000000000005,494.5" stroke="#efdcae" stroke-width="1.3" fill="none"/>
<path d="M301.4,494.5 Q302.5,500 305,502 Q307.5,500 308.6,494.5" stroke="#efdcae" stroke-width="1.3" fill="none"/>
<path d="M337.4,500 Q338.5,505.5 341,508 Q343.5,505.5 344.6,500" stroke="#3e4a1c" stroke-width="1.2" fill="none"/>
<path d="M370.0,500 Q371.1,505.5 373.6,508 Q376.1,505.5 377.20000000000005,500" stroke="#3e4a1c" stroke-width="1.2" fill="none"/>
<path d="M402.79999999999995,500 Q403.9,505.5 406.4,508 Q408.9,505.5 410.0,500" stroke="#3e4a1c" stroke-width="1.2" fill="none"/>
<path d="M231.29999999999998,356 Q232.1,349.5 234.7,347.5 Q237.29999999999998,349.5 238.1,356" stroke="#f4f4f4" stroke-width="1.2" fill="none"/>
<path d="M262.8,356 Q263.59999999999997,349.5 266.2,347.5 Q268.8,349.5 269.59999999999997,356" stroke="#f4f4f4" stroke-width="1.2" fill="none"/>
<path d="M295.1,356 Q295.9,349.5 298.5,347.5 Q301.1,349.5 301.9,356" stroke="#f4f4f4" stroke-width="1.2" fill="none"/>
<path d="M327.0,356 Q327.79999999999995,349.5 330.4,347.5 Q333.0,349.5 333.79999999999995,356" stroke="#f4f4f4" stroke-width="1.2" fill="none"/>
<path d="M361.6,356 Q362.4,349.5 365,347.5 Q367.6,349.5 368.4,356" stroke="#f4f4f4" stroke-width="1.2" fill="none"/>
<path d="M394.5,356 Q395.29999999999995,349.5 397.9,347.5 Q400.5,349.5 401.29999999999995,356" stroke="#f4f4f4" stroke-width="1.2" fill="none"/>
<path d="M335.6,392 V416 M334.1,413 L335.6,416.5 L337.1,413" stroke="#5e5e48" stroke-width="0.6" fill="none"/>
<path d="M369.4,392 V416 M367.9,413 L369.4,416.5 L370.9,413" stroke="#5e5e48" stroke-width="0.6" fill="none"/>
<path d="M402.2,392 V416 M400.7,413 L402.2,416.5 L403.7,413" stroke="#5e5e48" stroke-width="0.6" fill="none"/>
<path d="M238.2,380 V425" stroke="#e6d2a4" stroke-width="1" opacity="0.7"/>
<path d="M269.5,380 V425" stroke="#e6d2a4" stroke-width="1" opacity="0.7"/>
<path d="M301.8,380 V425" stroke="#e6d2a4" stroke-width="1" opacity="0.7"/>
<rect x="85.4" y="293.6" width="46.9" height="4" fill="#8e8e90"/>
<path d="M85.7,293.8 V289.2 A26.23,26.23 0 0 1 132,289.2 V293.8 Z" fill="#0a0a0a"/>
<path d="M86.7,289.5 H131" stroke="#5a5a5a" stroke-width="0.7"/>
<rect x="178.5" y="293.6" width="33.8" height="4" fill="#8e8e90"/>
<path d="M178.8,293.8 V290.2 A18.87,18.87 0 0 1 212,290.2 V293.8 Z" fill="#0a0a0a"/>
<path d="M179.8,290.5 H211" stroke="#5a5a5a" stroke-width="0.7"/>
<rect x="244.39999999999998" y="293.40000000000003" width="21.7" height="4" fill="#8e8e90"/>
<path d="M244.7,293.6 V291.0 A12.08,12.08 0 0 1 265.8,291.0 V293.6 Z" fill="#0a0a0a"/>
<path d="M245.7,291.3 H264.8" stroke="#5a5a5a" stroke-width="0.7"/>
<rect x="277.7" y="293.40000000000003" width="20.9" height="4" fill="#8e8e90"/>
<path d="M278,293.6 V291.0 A11.41,11.41 0 0 1 298.3,291.0 V293.6 Z" fill="#0a0a0a"/>
<path d="M279,291.3 H297.3" stroke="#5a5a5a" stroke-width="0.7"/>
<rect x="305.5" y="293.40000000000003" width="21.0" height="4" fill="#8e8e90"/>
<path d="M305.8,293.6 V291.0 A11.49,11.49 0 0 1 326.2,291.0 V293.6 Z" fill="#0a0a0a"/>
<path d="M306.8,291.3 H325.2" stroke="#5a5a5a" stroke-width="0.7"/>
<rect x="342.2" y="293.40000000000003" width="20.6" height="4" fill="#8e8e90"/>
<path d="M342.5,293.6 V291.0 A11.16,11.16 0 0 1 362.5,291.0 V293.6 Z" fill="#0a0a0a"/>
<path d="M343.5,291.3 H361.5" stroke="#5a5a5a" stroke-width="0.7"/>
<rect x="374.7" y="293.40000000000003" width="20.9" height="4" fill="#8e8e90"/>
<path d="M375,293.6 V291.0 A11.41,11.41 0 0 1 395.3,291.0 V293.6 Z" fill="#0a0a0a"/>
<path d="M376,291.3 H394.3" stroke="#5a5a5a" stroke-width="0.7"/>
<rect x="407.5" y="293.40000000000003" width="20.3" height="4" fill="#8e8e90"/>
<path d="M407.8,293.6 V291.0 A10.92,10.92 0 0 1 427.5,291.0 V293.6 Z" fill="#0a0a0a"/>
<path d="M408.8,291.3 H426.5" stroke="#5a5a5a" stroke-width="0.7"/>
<rect x="58" y="308.7" width="20" height="16.3" fill="#5c5c5e"/>
<rect x="58" y="308.7" width="20" height="2.2" fill="#8a8a8c"/>
<path d="M55,316.5 C64,313.4 72,314 76,317 C80,320 82,323 83.5,326" stroke="#fff" stroke-width="2.6" fill="none"/>
<path d="M79.5,323.5 L85.8,330.5 L86.6,316.5 L84,321.5 Z" fill="#fff"/><g transform="translate(342.6 431.5)"><g stroke="#8a8a8a" stroke-width="0.35"><circle cx="2.2" cy="3.0" r="3.0" fill="#979797"/><circle cx="8.0" cy="3.0" r="3.0" fill="#979797"/><circle cx="12.3" cy="2.7" r="3.0" fill="#979797"/><circle cx="18.5" cy="3.2" r="3.0" fill="#fbfbfb"/><circle cx="4.5" cy="7.1" r="3.0" fill="#cfcfcf"/><circle cx="10.0" cy="6.8" r="3.0" fill="#fbfbfb"/><circle cx="15.1" cy="7.9" r="3.0" fill="#979797"/><circle cx="1.7" cy="12.5" r="3.0" fill="#fbfbfb"/><circle cx="7.6" cy="11.7" r="3.0" fill="#fbfbfb"/><circle cx="13.3" cy="11.8" r="3.0" fill="#fbfbfb"/><circle cx="18.9" cy="12.6" r="3.0" fill="#fbfbfb"/><circle cx="5.1" cy="16.9" r="3.0" fill="#cfcfcf"/><circle cx="9.6" cy="17.4" r="3.0" fill="#cfcfcf"/><circle cx="15.9" cy="17.3" r="3.0" fill="#fbfbfb"/><circle cx="1.9" cy="21.2" r="3.0" fill="#fbfbfb"/><circle cx="7.0" cy="21.4" r="3.0" fill="#cfcfcf"/><circle cx="12.3" cy="21.8" r="3.0" fill="#fbfbfb"/><circle cx="18.1" cy="22.0" r="3.0" fill="#cfcfcf"/><circle cx="4.3" cy="26.3" r="3.0" fill="#cfcfcf"/><circle cx="9.4" cy="26.9" r="3.0" fill="#fbfbfb"/><circle cx="15.6" cy="26.7" r="3.0" fill="#fbfbfb"/><circle cx="2.4" cy="30.9" r="3.0" fill="#cfcfcf"/><circle cx="6.9" cy="30.5" r="3.0" fill="#fbfbfb"/><circle cx="13.4" cy="30.7" r="3.0" fill="#979797"/><circle cx="18.8" cy="31.6" r="3.0" fill="#fbfbfb"/><circle cx="4.4" cy="35.8" r="3.0" fill="#979797"/><circle cx="9.5" cy="36.1" r="3.0" fill="#979797"/><circle cx="15.8" cy="35.2" r="3.0" fill="#979797"/><circle cx="1.6" cy="40.3" r="3.0" fill="#cfcfcf"/><circle cx="8.0" cy="40.3" r="3.0" fill="#979797"/><circle cx="13.0" cy="40.3" r="3.0" fill="#fbfbfb"/><circle cx="17.9" cy="40.0" r="3.0" fill="#fbfbfb"/><circle cx="4.8" cy="45.8" r="3.0" fill="#fbfbfb"/><circle cx="9.4" cy="45.8" r="3.0" fill="#cfcfcf"/><circle cx="15.2" cy="44.9" r="3.0" fill="#cfcfcf"/><circle cx="2.5" cy="49.9" r="3.0" fill="#cfcfcf"/><circle cx="7.0" cy="50.4" r="3.0" fill="#fbfbfb"/><circle cx="12.9" cy="50.4" r="3.0" fill="#fbfbfb"/><circle cx="18.6" cy="50.5" r="3.0" fill="#cfcfcf"/><circle cx="4.9" cy="54.2" r="3.0" fill="#cfcfcf"/><circle cx="9.5" cy="55.1" r="3.0" fill="#fbfbfb"/><circle cx="15.3" cy="55.3" r="3.0" fill="#979797"/><circle cx="2.7" cy="59.3" r="3.0" fill="#cfcfcf"/><circle cx="7.8" cy="59.4" r="3.0" fill="#fbfbfb"/><circle cx="12.8" cy="59.0" r="3.0" fill="#fbfbfb"/><circle cx="18.9" cy="60.0" r="3.0" fill="#cfcfcf"/></g><g><ellipse cx="10.4" cy="21.6" rx="1.1" ry="1.7" fill="#444" transform="rotate(-32 10.4 21.6)"/><ellipse cx="15.2" cy="45.6" rx="1.6" ry="2.2" fill="#444" transform="rotate(6 15.2 45.6)"/><ellipse cx="11.4" cy="39.8" rx="1.8" ry="1.7" fill="#444" transform="rotate(3 11.4 39.8)"/><ellipse cx="12.9" cy="34.9" rx="1.0" ry="2.1" fill="#444" transform="rotate(1 12.9 34.9)"/><ellipse cx="13.3" cy="28.5" rx="1.7" ry="2.2" fill="#444" transform="rotate(4 13.3 28.5)"/><ellipse cx="6.6" cy="22.0" rx="1.8" ry="1.9" fill="#2a2a2a" transform="rotate(17 6.6 22.0)"/><ellipse cx="18.4" cy="55.6" rx="1.5" ry="2.0" fill="#2a2a2a" transform="rotate(-15 18.4 55.6)"/><ellipse cx="16.1" cy="54.6" rx="1.4" ry="2.2" fill="#5a5a5a" transform="rotate(-19 16.1 54.6)"/><ellipse cx="12.4" cy="54.5" rx="1.5" ry="2.5" fill="#444" transform="rotate(39 12.4 54.5)"/><ellipse cx="11.3" cy="50.7" rx="1.2" ry="2.6" fill="#2a2a2a" transform="rotate(-20 11.3 50.7)"/><ellipse cx="11.9" cy="37.3" rx="1.2" ry="2.3" fill="#2a2a2a" transform="rotate(40 11.9 37.3)"/><ellipse cx="14.1" cy="57.3" rx="1.9" ry="1.6" fill="#2a2a2a" transform="rotate(-26 14.1 57.3)"/><ellipse cx="7.3" cy="13.0" rx="1.2" ry="1.4" fill="#5a5a5a" transform="rotate(4 7.3 13.0)"/><ellipse cx="8.4" cy="36.6" rx="1.5" ry="1.7" fill="#444" transform="rotate(-40 8.4 36.6)"/><ellipse cx="7.9" cy="55.4" rx="1.8" ry="2.4" fill="#444" transform="rotate(-36 7.9 55.4)"/><ellipse cx="11.2" cy="19.6" rx="1.3" ry="2.0" fill="#444" transform="rotate(5 11.2 19.6)"/><ellipse cx="15.8" cy="26.1" rx="1.7" ry="2.2" fill="#444" transform="rotate(19 15.8 26.1)"/><ellipse cx="4.4" cy="35.8" rx="1.5" ry="2.5" fill="#2a2a2a" transform="rotate(37 4.4 35.8)"/><ellipse cx="3.5" cy="48.2" rx="1.6" ry="1.9" fill="#444" transform="rotate(32 3.5 48.2)"/><ellipse cx="17.4" cy="32.7" rx="1.3" ry="2.5" fill="#5a5a5a" transform="rotate(14 17.4 32.7)"/><ellipse cx="9.3" cy="15.4" rx="1.3" ry="2.6" fill="#5a5a5a" transform="rotate(9 9.3 15.4)"/><ellipse cx="18.1" cy="53.3" rx="1.5" ry="1.7" fill="#444" transform="rotate(23 18.1 53.3)"/><ellipse cx="6.2" cy="4.1" rx="1.9" ry="1.8" fill="#444" transform="rotate(-22 6.2 4.1)"/><ellipse cx="10.0" cy="9.7" rx="1.6" ry="1.9" fill="#444" transform="rotate(-35 10.0 9.7)"/><ellipse cx="15.1" cy="48.5" rx="1.0" ry="2.0" fill="#444" transform="rotate(-9 15.1 48.5)"/><ellipse cx="17.7" cy="46.0" rx="1.2" ry="1.7" fill="#2a2a2a" transform="rotate(-4 17.7 46.0)"/><ellipse cx="6.9" cy="36.4" rx="1.4" ry="2.2" fill="#1c1c1c" transform="rotate(-38 6.9 36.4)"/><ellipse cx="14.8" cy="19.5" rx="1.5" ry="1.8" fill="#444" transform="rotate(27 14.8 19.5)"/><ellipse cx="2.4" cy="22.2" rx="1.6" ry="2.4" fill="#2a2a2a" transform="rotate(-36 2.4 22.2)"/><ellipse cx="2.0" cy="33.4" rx="1.6" ry="1.5" fill="#2a2a2a" transform="rotate(-39 2.0 33.4)"/><ellipse cx="9.2" cy="47.4" rx="1.5" ry="2.2" fill="#5a5a5a" transform="rotate(9 9.2 47.4)"/><ellipse cx="10.0" cy="40.5" rx="1.6" ry="2.5" fill="#5a5a5a" transform="rotate(-32 10.0 40.5)"/><ellipse cx="7.1" cy="3.2" rx="1.7" ry="2.1" fill="#5a5a5a" transform="rotate(-1 7.1 3.2)"/><ellipse cx="4.4" cy="29.3" rx="1.5" ry="2.0" fill="#444" transform="rotate(28 4.4 29.3)"/><ellipse cx="4.6" cy="35.2" rx="1.7" ry="1.5" fill="#2a2a2a" transform="rotate(-6 4.6 35.2)"/><ellipse cx="15.8" cy="46.5" rx="1.6" ry="1.4" fill="#5a5a5a" transform="rotate(-32 15.8 46.5)"/><ellipse cx="18.8" cy="41.6" rx="1.0" ry="2.4" fill="#2a2a2a" transform="rotate(38 18.8 41.6)"/><ellipse cx="12.8" cy="55.4" rx="1.6" ry="1.6" fill="#444" transform="rotate(16 12.8 55.4)"/><ellipse cx="4.5" cy="36.6" rx="1.4" ry="1.6" fill="#2a2a2a" transform="rotate(-35 4.5 36.6)"/><ellipse cx="11.3" cy="39.3" rx="1.7" ry="1.7" fill="#1c1c1c" transform="rotate(11 11.3 39.3)"/><ellipse cx="16.8" cy="10.4" rx="1.4" ry="1.8" fill="#5a5a5a" transform="rotate(22 16.8 10.4)"/><ellipse cx="7.9" cy="39.1" rx="1.8" ry="1.6" fill="#444" transform="rotate(-21 7.9 39.1)"/><ellipse cx="11.6" cy="40.3" rx="1.3" ry="2.5" fill="#2a2a2a" transform="rotate(-7 11.6 40.3)"/><ellipse cx="3.1" cy="16.0" rx="1.7" ry="1.7" fill="#2a2a2a" transform="rotate(-10 3.1 16.0)"/><ellipse cx="16.5" cy="27.9" rx="1.4" ry="1.6" fill="#1c1c1c" transform="rotate(3 16.5 27.9)"/><ellipse cx="3.4" cy="39.7" rx="1.1" ry="1.5" fill="#5a5a5a" transform="rotate(-10 3.4 39.7)"/><ellipse cx="8.5" cy="28.4" rx="1.9" ry="1.5" fill="#1c1c1c" transform="rotate(29 8.5 28.4)"/><ellipse cx="14.2" cy="6.0" rx="1.1" ry="2.5" fill="#2a2a2a" transform="rotate(-26 14.2 6.0)"/><ellipse cx="3.4" cy="53.1" rx="1.4" ry="1.7" fill="#5a5a5a" transform="rotate(5 3.4 53.1)"/><ellipse cx="16.0" cy="18.9" rx="1.8" ry="2.2" fill="#5a5a5a" transform="rotate(8 16.0 18.9)"/><ellipse cx="4.3" cy="48.7" rx="1.6" ry="2.4" fill="#5a5a5a" transform="rotate(6 4.3 48.7)"/><ellipse cx="10.7" cy="35.6" rx="1.5" ry="2.3" fill="#5a5a5a" transform="rotate(-32 10.7 35.6)"/></g></g>
<g transform="translate(375 431.5)"><g stroke="#8a8a8a" stroke-width="0.35"><circle cx="2.2" cy="3.0" r="3.0" fill="#979797"/><circle cx="8.0" cy="3.0" r="3.0" fill="#979797"/><circle cx="12.3" cy="2.7" r="3.0" fill="#979797"/><circle cx="18.5" cy="3.2" r="3.0" fill="#fbfbfb"/><circle cx="4.5" cy="7.1" r="3.0" fill="#cfcfcf"/><circle cx="10.0" cy="6.8" r="3.0" fill="#fbfbfb"/><circle cx="15.1" cy="7.9" r="3.0" fill="#979797"/><circle cx="1.7" cy="12.5" r="3.0" fill="#fbfbfb"/><circle cx="7.6" cy="11.7" r="3.0" fill="#fbfbfb"/><circle cx="13.3" cy="11.8" r="3.0" fill="#fbfbfb"/><circle cx="18.9" cy="12.6" r="3.0" fill="#fbfbfb"/><circle cx="5.1" cy="16.9" r="3.0" fill="#cfcfcf"/><circle cx="9.6" cy="17.4" r="3.0" fill="#cfcfcf"/><circle cx="15.9" cy="17.3" r="3.0" fill="#fbfbfb"/><circle cx="1.9" cy="21.2" r="3.0" fill="#fbfbfb"/><circle cx="7.0" cy="21.4" r="3.0" fill="#cfcfcf"/><circle cx="12.3" cy="21.8" r="3.0" fill="#fbfbfb"/><circle cx="18.1" cy="22.0" r="3.0" fill="#cfcfcf"/><circle cx="4.3" cy="26.3" r="3.0" fill="#cfcfcf"/><circle cx="9.4" cy="26.9" r="3.0" fill="#fbfbfb"/><circle cx="15.6" cy="26.7" r="3.0" fill="#fbfbfb"/><circle cx="2.4" cy="30.9" r="3.0" fill="#cfcfcf"/><circle cx="6.9" cy="30.5" r="3.0" fill="#fbfbfb"/><circle cx="13.4" cy="30.7" r="3.0" fill="#979797"/><circle cx="18.8" cy="31.6" r="3.0" fill="#fbfbfb"/><circle cx="4.4" cy="35.8" r="3.0" fill="#979797"/><circle cx="9.5" cy="36.1" r="3.0" fill="#979797"/><circle cx="15.8" cy="35.2" r="3.0" fill="#979797"/><circle cx="1.6" cy="40.3" r="3.0" fill="#cfcfcf"/><circle cx="8.0" cy="40.3" r="3.0" fill="#979797"/><circle cx="13.0" cy="40.3" r="3.0" fill="#fbfbfb"/><circle cx="17.9" cy="40.0" r="3.0" fill="#fbfbfb"/><circle cx="4.8" cy="45.8" r="3.0" fill="#fbfbfb"/><circle cx="9.4" cy="45.8" r="3.0" fill="#cfcfcf"/><circle cx="15.2" cy="44.9" r="3.0" fill="#cfcfcf"/><circle cx="2.5" cy="49.9" r="3.0" fill="#cfcfcf"/><circle cx="7.0" cy="50.4" r="3.0" fill="#fbfbfb"/><circle cx="12.9" cy="50.4" r="3.0" fill="#fbfbfb"/><circle cx="18.6" cy="50.5" r="3.0" fill="#cfcfcf"/><circle cx="4.9" cy="54.2" r="3.0" fill="#cfcfcf"/><circle cx="9.5" cy="55.1" r="3.0" fill="#fbfbfb"/><circle cx="15.3" cy="55.3" r="3.0" fill="#979797"/><circle cx="2.7" cy="59.3" r="3.0" fill="#cfcfcf"/><circle cx="7.8" cy="59.4" r="3.0" fill="#fbfbfb"/><circle cx="12.8" cy="59.0" r="3.0" fill="#fbfbfb"/><circle cx="18.9" cy="60.0" r="3.0" fill="#cfcfcf"/></g><g><ellipse cx="10.4" cy="21.6" rx="1.1" ry="1.7" fill="#444" transform="rotate(-32 10.4 21.6)"/><ellipse cx="15.2" cy="45.6" rx="1.6" ry="2.2" fill="#444" transform="rotate(6 15.2 45.6)"/><ellipse cx="11.4" cy="39.8" rx="1.8" ry="1.7" fill="#444" transform="rotate(3 11.4 39.8)"/><ellipse cx="12.9" cy="34.9" rx="1.0" ry="2.1" fill="#444" transform="rotate(1 12.9 34.9)"/><ellipse cx="13.3" cy="28.5" rx="1.7" ry="2.2" fill="#444" transform="rotate(4 13.3 28.5)"/><ellipse cx="6.6" cy="22.0" rx="1.8" ry="1.9" fill="#2a2a2a" transform="rotate(17 6.6 22.0)"/><ellipse cx="18.4" cy="55.6" rx="1.5" ry="2.0" fill="#2a2a2a" transform="rotate(-15 18.4 55.6)"/><ellipse cx="16.1" cy="54.6" rx="1.4" ry="2.2" fill="#5a5a5a" transform="rotate(-19 16.1 54.6)"/><ellipse cx="12.4" cy="54.5" rx="1.5" ry="2.5" fill="#444" transform="rotate(39 12.4 54.5)"/><ellipse cx="11.3" cy="50.7" rx="1.2" ry="2.6" fill="#2a2a2a" transform="rotate(-20 11.3 50.7)"/><ellipse cx="11.9" cy="37.3" rx="1.2" ry="2.3" fill="#2a2a2a" transform="rotate(40 11.9 37.3)"/><ellipse cx="14.1" cy="57.3" rx="1.9" ry="1.6" fill="#2a2a2a" transform="rotate(-26 14.1 57.3)"/><ellipse cx="7.3" cy="13.0" rx="1.2" ry="1.4" fill="#5a5a5a" transform="rotate(4 7.3 13.0)"/><ellipse cx="8.4" cy="36.6" rx="1.5" ry="1.7" fill="#444" transform="rotate(-40 8.4 36.6)"/><ellipse cx="7.9" cy="55.4" rx="1.8" ry="2.4" fill="#444" transform="rotate(-36 7.9 55.4)"/><ellipse cx="11.2" cy="19.6" rx="1.3" ry="2.0" fill="#444" transform="rotate(5 11.2 19.6)"/><ellipse cx="15.8" cy="26.1" rx="1.7" ry="2.2" fill="#444" transform="rotate(19 15.8 26.1)"/><ellipse cx="4.4" cy="35.8" rx="1.5" ry="2.5" fill="#2a2a2a" transform="rotate(37 4.4 35.8)"/><ellipse cx="3.5" cy="48.2" rx="1.6" ry="1.9" fill="#444" transform="rotate(32 3.5 48.2)"/><ellipse cx="17.4" cy="32.7" rx="1.3" ry="2.5" fill="#5a5a5a" transform="rotate(14 17.4 32.7)"/><ellipse cx="9.3" cy="15.4" rx="1.3" ry="2.6" fill="#5a5a5a" transform="rotate(9 9.3 15.4)"/><ellipse cx="18.1" cy="53.3" rx="1.5" ry="1.7" fill="#444" transform="rotate(23 18.1 53.3)"/><ellipse cx="6.2" cy="4.1" rx="1.9" ry="1.8" fill="#444" transform="rotate(-22 6.2 4.1)"/><ellipse cx="10.0" cy="9.7" rx="1.6" ry="1.9" fill="#444" transform="rotate(-35 10.0 9.7)"/><ellipse cx="15.1" cy="48.5" rx="1.0" ry="2.0" fill="#444" transform="rotate(-9 15.1 48.5)"/><ellipse cx="17.7" cy="46.0" rx="1.2" ry="1.7" fill="#2a2a2a" transform="rotate(-4 17.7 46.0)"/><ellipse cx="6.9" cy="36.4" rx="1.4" ry="2.2" fill="#1c1c1c" transform="rotate(-38 6.9 36.4)"/><ellipse cx="14.8" cy="19.5" rx="1.5" ry="1.8" fill="#444" transform="rotate(27 14.8 19.5)"/><ellipse cx="2.4" cy="22.2" rx="1.6" ry="2.4" fill="#2a2a2a" transform="rotate(-36 2.4 22.2)"/><ellipse cx="2.0" cy="33.4" rx="1.6" ry="1.5" fill="#2a2a2a" transform="rotate(-39 2.0 33.4)"/><ellipse cx="9.2" cy="47.4" rx="1.5" ry="2.2" fill="#5a5a5a" transform="rotate(9 9.2 47.4)"/><ellipse cx="10.0" cy="40.5" rx="1.6" ry="2.5" fill="#5a5a5a" transform="rotate(-32 10.0 40.5)"/><ellipse cx="7.1" cy="3.2" rx="1.7" ry="2.1" fill="#5a5a5a" transform="rotate(-1 7.1 3.2)"/><ellipse cx="4.4" cy="29.3" rx="1.5" ry="2.0" fill="#444" transform="rotate(28 4.4 29.3)"/><ellipse cx="4.6" cy="35.2" rx="1.7" ry="1.5" fill="#2a2a2a" transform="rotate(-6 4.6 35.2)"/><ellipse cx="15.8" cy="46.5" rx="1.6" ry="1.4" fill="#5a5a5a" transform="rotate(-32 15.8 46.5)"/><ellipse cx="18.8" cy="41.6" rx="1.0" ry="2.4" fill="#2a2a2a" transform="rotate(38 18.8 41.6)"/><ellipse cx="12.8" cy="55.4" rx="1.6" ry="1.6" fill="#444" transform="rotate(16 12.8 55.4)"/><ellipse cx="4.5" cy="36.6" rx="1.4" ry="1.6" fill="#2a2a2a" transform="rotate(-35 4.5 36.6)"/><ellipse cx="11.3" cy="39.3" rx="1.7" ry="1.7" fill="#1c1c1c" transform="rotate(11 11.3 39.3)"/><ellipse cx="16.8" cy="10.4" rx="1.4" ry="1.8" fill="#5a5a5a" transform="rotate(22 16.8 10.4)"/><ellipse cx="7.9" cy="39.1" rx="1.8" ry="1.6" fill="#444" transform="rotate(-21 7.9 39.1)"/><ellipse cx="11.6" cy="40.3" rx="1.3" ry="2.5" fill="#2a2a2a" transform="rotate(-7 11.6 40.3)"/><ellipse cx="3.1" cy="16.0" rx="1.7" ry="1.7" fill="#2a2a2a" transform="rotate(-10 3.1 16.0)"/><ellipse cx="16.5" cy="27.9" rx="1.4" ry="1.6" fill="#1c1c1c" transform="rotate(3 16.5 27.9)"/><ellipse cx="3.4" cy="39.7" rx="1.1" ry="1.5" fill="#5a5a5a" transform="rotate(-10 3.4 39.7)"/><ellipse cx="8.5" cy="28.4" rx="1.9" ry="1.5" fill="#1c1c1c" transform="rotate(29 8.5 28.4)"/><ellipse cx="14.2" cy="6.0" rx="1.1" ry="2.5" fill="#2a2a2a" transform="rotate(-26 14.2 6.0)"/><ellipse cx="3.4" cy="53.1" rx="1.4" ry="1.7" fill="#5a5a5a" transform="rotate(5 3.4 53.1)"/><ellipse cx="16.0" cy="18.9" rx="1.8" ry="2.2" fill="#5a5a5a" transform="rotate(8 16.0 18.9)"/><ellipse cx="4.3" cy="48.7" rx="1.6" ry="2.4" fill="#5a5a5a" transform="rotate(6 4.3 48.7)"/><ellipse cx="10.7" cy="35.6" rx="1.5" ry="2.3" fill="#5a5a5a" transform="rotate(-32 10.7 35.6)"/></g></g>
<g transform="translate(408.4 431.5)"><g stroke="#8a8a8a" stroke-width="0.35"><circle cx="2.2" cy="3.0" r="3.0" fill="#979797"/><circle cx="8.0" cy="3.0" r="3.0" fill="#979797"/><circle cx="12.3" cy="2.7" r="3.0" fill="#979797"/><circle cx="18.5" cy="3.2" r="3.0" fill="#fbfbfb"/><circle cx="4.5" cy="7.1" r="3.0" fill="#cfcfcf"/><circle cx="10.0" cy="6.8" r="3.0" fill="#fbfbfb"/><circle cx="15.1" cy="7.9" r="3.0" fill="#979797"/><circle cx="1.7" cy="12.5" r="3.0" fill="#fbfbfb"/><circle cx="7.6" cy="11.7" r="3.0" fill="#fbfbfb"/><circle cx="13.3" cy="11.8" r="3.0" fill="#fbfbfb"/><circle cx="18.9" cy="12.6" r="3.0" fill="#fbfbfb"/><circle cx="5.1" cy="16.9" r="3.0" fill="#cfcfcf"/><circle cx="9.6" cy="17.4" r="3.0" fill="#cfcfcf"/><circle cx="15.9" cy="17.3" r="3.0" fill="#fbfbfb"/><circle cx="1.9" cy="21.2" r="3.0" fill="#fbfbfb"/><circle cx="7.0" cy="21.4" r="3.0" fill="#cfcfcf"/><circle cx="12.3" cy="21.8" r="3.0" fill="#fbfbfb"/><circle cx="18.1" cy="22.0" r="3.0" fill="#cfcfcf"/><circle cx="4.3" cy="26.3" r="3.0" fill="#cfcfcf"/><circle cx="9.4" cy="26.9" r="3.0" fill="#fbfbfb"/><circle cx="15.6" cy="26.7" r="3.0" fill="#fbfbfb"/><circle cx="2.4" cy="30.9" r="3.0" fill="#cfcfcf"/><circle cx="6.9" cy="30.5" r="3.0" fill="#fbfbfb"/><circle cx="13.4" cy="30.7" r="3.0" fill="#979797"/><circle cx="18.8" cy="31.6" r="3.0" fill="#fbfbfb"/><circle cx="4.4" cy="35.8" r="3.0" fill="#979797"/><circle cx="9.5" cy="36.1" r="3.0" fill="#979797"/><circle cx="15.8" cy="35.2" r="3.0" fill="#979797"/><circle cx="1.6" cy="40.3" r="3.0" fill="#cfcfcf"/><circle cx="8.0" cy="40.3" r="3.0" fill="#979797"/><circle cx="13.0" cy="40.3" r="3.0" fill="#fbfbfb"/><circle cx="17.9" cy="40.0" r="3.0" fill="#fbfbfb"/><circle cx="4.8" cy="45.8" r="3.0" fill="#fbfbfb"/><circle cx="9.4" cy="45.8" r="3.0" fill="#cfcfcf"/><circle cx="15.2" cy="44.9" r="3.0" fill="#cfcfcf"/><circle cx="2.5" cy="49.9" r="3.0" fill="#cfcfcf"/><circle cx="7.0" cy="50.4" r="3.0" fill="#fbfbfb"/><circle cx="12.9" cy="50.4" r="3.0" fill="#fbfbfb"/><circle cx="18.6" cy="50.5" r="3.0" fill="#cfcfcf"/><circle cx="4.9" cy="54.2" r="3.0" fill="#cfcfcf"/><circle cx="9.5" cy="55.1" r="3.0" fill="#fbfbfb"/><circle cx="15.3" cy="55.3" r="3.0" fill="#979797"/><circle cx="2.7" cy="59.3" r="3.0" fill="#cfcfcf"/><circle cx="7.8" cy="59.4" r="3.0" fill="#fbfbfb"/><circle cx="12.8" cy="59.0" r="3.0" fill="#fbfbfb"/><circle cx="18.9" cy="60.0" r="3.0" fill="#cfcfcf"/></g><g><ellipse cx="10.4" cy="21.6" rx="1.1" ry="1.7" fill="#444" transform="rotate(-32 10.4 21.6)"/><ellipse cx="15.2" cy="45.6" rx="1.6" ry="2.2" fill="#444" transform="rotate(6 15.2 45.6)"/><ellipse cx="11.4" cy="39.8" rx="1.8" ry="1.7" fill="#444" transform="rotate(3 11.4 39.8)"/><ellipse cx="12.9" cy="34.9" rx="1.0" ry="2.1" fill="#444" transform="rotate(1 12.9 34.9)"/><ellipse cx="13.3" cy="28.5" rx="1.7" ry="2.2" fill="#444" transform="rotate(4 13.3 28.5)"/><ellipse cx="6.6" cy="22.0" rx="1.8" ry="1.9" fill="#2a2a2a" transform="rotate(17 6.6 22.0)"/><ellipse cx="18.4" cy="55.6" rx="1.5" ry="2.0" fill="#2a2a2a" transform="rotate(-15 18.4 55.6)"/><ellipse cx="16.1" cy="54.6" rx="1.4" ry="2.2" fill="#5a5a5a" transform="rotate(-19 16.1 54.6)"/><ellipse cx="12.4" cy="54.5" rx="1.5" ry="2.5" fill="#444" transform="rotate(39 12.4 54.5)"/><ellipse cx="11.3" cy="50.7" rx="1.2" ry="2.6" fill="#2a2a2a" transform="rotate(-20 11.3 50.7)"/><ellipse cx="11.9" cy="37.3" rx="1.2" ry="2.3" fill="#2a2a2a" transform="rotate(40 11.9 37.3)"/><ellipse cx="14.1" cy="57.3" rx="1.9" ry="1.6" fill="#2a2a2a" transform="rotate(-26 14.1 57.3)"/><ellipse cx="7.3" cy="13.0" rx="1.2" ry="1.4" fill="#5a5a5a" transform="rotate(4 7.3 13.0)"/><ellipse cx="8.4" cy="36.6" rx="1.5" ry="1.7" fill="#444" transform="rotate(-40 8.4 36.6)"/><ellipse cx="7.9" cy="55.4" rx="1.8" ry="2.4" fill="#444" transform="rotate(-36 7.9 55.4)"/><ellipse cx="11.2" cy="19.6" rx="1.3" ry="2.0" fill="#444" transform="rotate(5 11.2 19.6)"/><ellipse cx="15.8" cy="26.1" rx="1.7" ry="2.2" fill="#444" transform="rotate(19 15.8 26.1)"/><ellipse cx="4.4" cy="35.8" rx="1.5" ry="2.5" fill="#2a2a2a" transform="rotate(37 4.4 35.8)"/><ellipse cx="3.5" cy="48.2" rx="1.6" ry="1.9" fill="#444" transform="rotate(32 3.5 48.2)"/><ellipse cx="17.4" cy="32.7" rx="1.3" ry="2.5" fill="#5a5a5a" transform="rotate(14 17.4 32.7)"/><ellipse cx="9.3" cy="15.4" rx="1.3" ry="2.6" fill="#5a5a5a" transform="rotate(9 9.3 15.4)"/><ellipse cx="18.1" cy="53.3" rx="1.5" ry="1.7" fill="#444" transform="rotate(23 18.1 53.3)"/><ellipse cx="6.2" cy="4.1" rx="1.9" ry="1.8" fill="#444" transform="rotate(-22 6.2 4.1)"/><ellipse cx="10.0" cy="9.7" rx="1.6" ry="1.9" fill="#444" transform="rotate(-35 10.0 9.7)"/><ellipse cx="15.1" cy="48.5" rx="1.0" ry="2.0" fill="#444" transform="rotate(-9 15.1 48.5)"/><ellipse cx="17.7" cy="46.0" rx="1.2" ry="1.7" fill="#2a2a2a" transform="rotate(-4 17.7 46.0)"/><ellipse cx="6.9" cy="36.4" rx="1.4" ry="2.2" fill="#1c1c1c" transform="rotate(-38 6.9 36.4)"/><ellipse cx="14.8" cy="19.5" rx="1.5" ry="1.8" fill="#444" transform="rotate(27 14.8 19.5)"/><ellipse cx="2.4" cy="22.2" rx="1.6" ry="2.4" fill="#2a2a2a" transform="rotate(-36 2.4 22.2)"/><ellipse cx="2.0" cy="33.4" rx="1.6" ry="1.5" fill="#2a2a2a" transform="rotate(-39 2.0 33.4)"/><ellipse cx="9.2" cy="47.4" rx="1.5" ry="2.2" fill="#5a5a5a" transform="rotate(9 9.2 47.4)"/><ellipse cx="10.0" cy="40.5" rx="1.6" ry="2.5" fill="#5a5a5a" transform="rotate(-32 10.0 40.5)"/><ellipse cx="7.1" cy="3.2" rx="1.7" ry="2.1" fill="#5a5a5a" transform="rotate(-1 7.1 3.2)"/><ellipse cx="4.4" cy="29.3" rx="1.5" ry="2.0" fill="#444" transform="rotate(28 4.4 29.3)"/><ellipse cx="4.6" cy="35.2" rx="1.7" ry="1.5" fill="#2a2a2a" transform="rotate(-6 4.6 35.2)"/><ellipse cx="15.8" cy="46.5" rx="1.6" ry="1.4" fill="#5a5a5a" transform="rotate(-32 15.8 46.5)"/><ellipse cx="18.8" cy="41.6" rx="1.0" ry="2.4" fill="#2a2a2a" transform="rotate(38 18.8 41.6)"/><ellipse cx="12.8" cy="55.4" rx="1.6" ry="1.6" fill="#444" transform="rotate(16 12.8 55.4)"/><ellipse cx="4.5" cy="36.6" rx="1.4" ry="1.6" fill="#2a2a2a" transform="rotate(-35 4.5 36.6)"/><ellipse cx="11.3" cy="39.3" rx="1.7" ry="1.7" fill="#1c1c1c" transform="rotate(11 11.3 39.3)"/><ellipse cx="16.8" cy="10.4" rx="1.4" ry="1.8" fill="#5a5a5a" transform="rotate(22 16.8 10.4)"/><ellipse cx="7.9" cy="39.1" rx="1.8" ry="1.6" fill="#444" transform="rotate(-21 7.9 39.1)"/><ellipse cx="11.6" cy="40.3" rx="1.3" ry="2.5" fill="#2a2a2a" transform="rotate(-7 11.6 40.3)"/><ellipse cx="3.1" cy="16.0" rx="1.7" ry="1.7" fill="#2a2a2a" transform="rotate(-10 3.1 16.0)"/><ellipse cx="16.5" cy="27.9" rx="1.4" ry="1.6" fill="#1c1c1c" transform="rotate(3 16.5 27.9)"/><ellipse cx="3.4" cy="39.7" rx="1.1" ry="1.5" fill="#5a5a5a" transform="rotate(-10 3.4 39.7)"/><ellipse cx="8.5" cy="28.4" rx="1.9" ry="1.5" fill="#1c1c1c" transform="rotate(29 8.5 28.4)"/><ellipse cx="14.2" cy="6.0" rx="1.1" ry="2.5" fill="#2a2a2a" transform="rotate(-26 14.2 6.0)"/><ellipse cx="3.4" cy="53.1" rx="1.4" ry="1.7" fill="#5a5a5a" transform="rotate(5 3.4 53.1)"/><ellipse cx="16.0" cy="18.9" rx="1.8" ry="2.2" fill="#5a5a5a" transform="rotate(8 16.0 18.9)"/><ellipse cx="4.3" cy="48.7" rx="1.6" ry="2.4" fill="#5a5a5a" transform="rotate(6 4.3 48.7)"/><ellipse cx="10.7" cy="35.6" rx="1.5" ry="2.3" fill="#5a5a5a" transform="rotate(-32 10.7 35.6)"/></g></g>
<path d="M425,364.3 H445.5 M425,380.3 H445.5" stroke="#7e7e7e" stroke-width="1.8" fill="none"/>
<path d="M423,374.6 C430,371.4 438,370.2 443,372 C448,374 451.2,379.5 453.2,385.8" stroke="#0c0c0c" stroke-width="2.6" fill="none" stroke-linecap="round"/>
<path d="M448.6,383.4 L453.7,387 L455,374.5" stroke="#0c0c0c" stroke-width="2.2" fill="none" stroke-linejoin="miter" stroke-linecap="round"/>
<path d="M449.5,383.6 L453.7,386.6 L454.6,378 Z" fill="#0c0c0c"/>
<defs><clipPath id="gclip"><path d="M442,398.5 L567.5,396 L540.5,470.5 L533.5,478.6 L505,480.6 L473.5,479.5 Z"/></clipPath></defs>
<path d="M442,398.5 L567.5,396 L540.5,470.5 L533.5,478.6 L505,480.6 L473.5,479.5 Z" fill="#5c5c5c"/>
<g stroke="#303030" stroke-width="0.55" clip-path="url(#gclip)"><circle cx="439.8" cy="397.0" r="1.64" fill="#9e9e9e"/><circle cx="444.0" cy="397.9" r="1.55" fill="#e6e6e6"/><circle cx="447.8" cy="397.9" r="1.70" fill="#aaaaaa"/><circle cx="451.6" cy="397.2" r="1.58" fill="#b8b8b8"/><circle cx="455.8" cy="397.9" r="1.62" fill="#6e6e6e"/><circle cx="458.9" cy="397.3" r="1.89" fill="#b8b8b8"/><circle cx="463.2" cy="397.0" r="1.70" fill="#f2f2f2"/><circle cx="467.0" cy="397.3" r="1.86" fill="#f2f2f2"/><circle cx="470.8" cy="397.5" r="1.60" fill="#b8b8b8"/><circle cx="474.6" cy="397.3" r="1.88" fill="#9e9e9e"/><circle cx="477.9" cy="397.2" r="1.81" fill="#f2f2f2"/><circle cx="482.1" cy="397.6" r="1.86" fill="#e6e6e6"/><circle cx="485.5" cy="397.4" r="1.88" fill="#d4d4d4"/><circle cx="489.8" cy="397.2" r="1.63" fill="#9e9e9e"/><circle cx="493.1" cy="397.0" r="1.88" fill="#aaaaaa"/><circle cx="497.0" cy="397.5" r="1.90" fill="#6e6e6e"/><circle cx="500.9" cy="397.0" r="1.93" fill="#949494"/><circle cx="505.1" cy="397.6" r="1.87" fill="#d4d4d4"/><circle cx="508.3" cy="397.8" r="1.97" fill="#d4d4d4"/><circle cx="511.9" cy="397.2" r="1.77" fill="#f2f2f2"/><circle cx="516.5" cy="397.0" r="1.75" fill="#aaaaaa"/><circle cx="520.1" cy="397.9" r="1.63" fill="#9e9e9e"/><circle cx="523.8" cy="397.4" r="1.66" fill="#949494"/><circle cx="528.0" cy="397.8" r="1.79" fill="#d4d4d4"/><circle cx="531.8" cy="397.6" r="1.83" fill="#9e9e9e"/><circle cx="535.1" cy="397.4" r="1.81" fill="#aaaaaa"/><circle cx="538.9" cy="397.6" r="1.96" fill="#f2f2f2"/><circle cx="542.6" cy="397.4" r="1.80" fill="#9e9e9e"/><circle cx="546.2" cy="397.5" r="1.92" fill="#868686"/><circle cx="550.2" cy="397.1" r="1.76" fill="#d4d4d4"/><circle cx="554.4" cy="397.8" r="1.67" fill="#9e9e9e"/><circle cx="558.0" cy="397.2" r="1.91" fill="#9e9e9e"/><circle cx="562.2" cy="397.9" r="1.74" fill="#d4d4d4"/><circle cx="565.4" cy="397.8" r="1.55" fill="#949494"/><circle cx="442.9" cy="401.1" r="1.81" fill="#b8b8b8"/><circle cx="446.9" cy="401.0" r="1.88" fill="#f2f2f2"/><circle cx="451.0" cy="400.4" r="1.80" fill="#aaaaaa"/><circle cx="454.4" cy="400.5" r="1.67" fill="#b8b8b8"/><circle cx="458.5" cy="400.4" r="1.79" fill="#d4d4d4"/><circle cx="462.4" cy="400.2" r="1.57" fill="#d4d4d4"/><circle cx="465.6" cy="400.5" r="1.98" fill="#868686"/><circle cx="469.9" cy="400.4" r="1.61" fill="#aaaaaa"/><circle cx="473.3" cy="400.5" r="1.81" fill="#b8b8b8"/><circle cx="477.7" cy="400.9" r="1.67" fill="#d4d4d4"/><circle cx="481.3" cy="400.8" r="1.75" fill="#b8b8b8"/><circle cx="485.4" cy="400.9" r="1.70" fill="#d4d4d4"/><circle cx="488.7" cy="400.4" r="1.63" fill="#aaaaaa"/><circle cx="492.1" cy="400.8" r="1.79" fill="#b8b8b8"/><circle cx="496.8" cy="400.7" r="1.61" fill="#d4d4d4"/><circle cx="500.5" cy="400.8" r="1.99" fill="#9e9e9e"/><circle cx="503.5" cy="400.7" r="1.87" fill="#6e6e6e"/><circle cx="507.6" cy="400.6" r="1.67" fill="#9e9e9e"/><circle cx="511.3" cy="400.7" r="1.89" fill="#e6e6e6"/><circle cx="515.6" cy="400.5" r="1.92" fill="#9e9e9e"/><circle cx="519.3" cy="401.1" r="1.83" fill="#f2f2f2"/><circle cx="522.9" cy="400.3" r="1.77" fill="#9e9e9e"/><circle cx="526.3" cy="400.3" r="1.89" fill="#d4d4d4"/><circle cx="530.3" cy="401.1" r="1.76" fill="#e6e6e6"/><circle cx="534.3" cy="400.7" r="1.91" fill="#d4d4d4"/><circle cx="538.0" cy="400.2" r="1.82" fill="#949494"/><circle cx="542.1" cy="401.0" r="1.69" fill="#f2f2f2"/><circle cx="545.3" cy="400.5" r="1.78" fill="#aaaaaa"/><circle cx="549.6" cy="400.8" r="1.99" fill="#6e6e6e"/><circle cx="553.7" cy="401.1" r="1.85" fill="#949494"/><circle cx="557.2" cy="400.9" r="1.98" fill="#e6e6e6"/><circle cx="560.5" cy="400.9" r="1.68" fill="#9e9e9e"/><circle cx="564.3" cy="400.2" r="1.82" fill="#e6e6e6"/><circle cx="443.0" cy="404.2" r="1.69" fill="#aaaaaa"/><circle cx="446.9" cy="403.6" r="1.58" fill="#9e9e9e"/><circle cx="450.5" cy="404.0" r="1.95" fill="#868686"/><circle cx="454.2" cy="404.1" r="1.64" fill="#949494"/><circle cx="457.8" cy="404.2" r="1.70" fill="#9e9e9e"/><circle cx="461.9" cy="403.7" r="1.85" fill="#f2f2f2"/><circle cx="465.3" cy="404.1" r="1.95" fill="#949494"/><circle cx="469.6" cy="403.9" r="1.70" fill="#aaaaaa"/><circle cx="473.4" cy="404.2" r="1.66" fill="#e6e6e6"/><circle cx="476.4" cy="403.6" r="1.91" fill="#868686"/><circle cx="480.2" cy="404.3" r="1.83" fill="#d4d4d4"/><circle cx="484.7" cy="403.5" r="1.81" fill="#d4d4d4"/><circle cx="488.3" cy="403.9" r="1.88" fill="#949494"/><circle cx="491.9" cy="403.7" r="1.82" fill="#949494"/><circle cx="495.6" cy="403.7" r="1.82" fill="#d4d4d4"/><circle cx="500.1" cy="403.5" r="1.62" fill="#f2f2f2"/><circle cx="503.2" cy="403.9" r="1.75" fill="#b8b8b8"/><circle cx="507.0" cy="403.4" r="1.88" fill="#e6e6e6"/><circle cx="510.6" cy="403.8" r="1.98" fill="#949494"/><circle cx="514.6" cy="404.2" r="1.97" fill="#aaaaaa"/><circle cx="518.4" cy="404.0" r="1.93" fill="#6e6e6e"/><circle cx="521.9" cy="404.0" r="1.59" fill="#d4d4d4"/><circle cx="525.9" cy="403.9" r="1.81" fill="#d4d4d4"/><circle cx="530.0" cy="403.6" r="1.87" fill="#b8b8b8"/><circle cx="534.2" cy="404.3" r="1.71" fill="#d4d4d4"/><circle cx="537.9" cy="403.5" r="1.72" fill="#e6e6e6"/><circle cx="541.4" cy="404.0" r="1.66" fill="#d4d4d4"/><circle cx="545.7" cy="403.8" r="1.60" fill="#f2f2f2"/><circle cx="549.1" cy="403.7" r="1.77" fill="#f2f2f2"/><circle cx="553.3" cy="404.2" r="1.77" fill="#d4d4d4"/><circle cx="557.1" cy="404.0" r="1.60" fill="#f2f2f2"/><circle cx="560.4" cy="403.7" r="1.96" fill="#9e9e9e"/><circle cx="564.1" cy="403.6" r="1.84" fill="#6e6e6e"/><circle cx="445.9" cy="406.5" r="1.68" fill="#d4d4d4"/><circle cx="449.2" cy="407.3" r="1.74" fill="#949494"/><circle cx="452.9" cy="407.4" r="1.85" fill="#868686"/><circle cx="456.6" cy="406.7" r="1.80" fill="#d4d4d4"/><circle cx="460.7" cy="406.6" r="1.93" fill="#aaaaaa"/><circle cx="464.3" cy="406.9" r="1.91" fill="#b8b8b8"/><circle cx="467.9" cy="407.2" r="1.91" fill="#e6e6e6"/><circle cx="471.7" cy="407.0" r="1.94" fill="#aaaaaa"/><circle cx="475.6" cy="407.4" r="1.99" fill="#9e9e9e"/><circle cx="479.7" cy="406.9" r="1.98" fill="#d4d4d4"/><circle cx="483.7" cy="407.3" r="1.78" fill="#6e6e6e"/><circle cx="486.9" cy="406.8" r="1.75" fill="#949494"/><circle cx="491.3" cy="407.4" r="1.65" fill="#f2f2f2"/><circle cx="494.9" cy="407.2" r="1.96" fill="#aaaaaa"/><circle cx="498.7" cy="407.4" r="1.95" fill="#b8b8b8"/><circle cx="502.2" cy="407.2" r="1.93" fill="#aaaaaa"/><circle cx="506.0" cy="406.8" r="1.74" fill="#aaaaaa"/><circle cx="510.0" cy="406.9" r="1.55" fill="#868686"/><circle cx="514.1" cy="407.2" r="1.58" fill="#6e6e6e"/><circle cx="518.0" cy="406.5" r="1.95" fill="#aaaaaa"/><circle cx="521.3" cy="406.5" r="1.98" fill="#6e6e6e"/><circle cx="525.5" cy="406.6" r="1.58" fill="#9e9e9e"/><circle cx="529.1" cy="407.1" r="1.63" fill="#f2f2f2"/><circle cx="532.9" cy="406.7" r="1.70" fill="#e6e6e6"/><circle cx="536.5" cy="406.7" r="1.59" fill="#949494"/><circle cx="540.2" cy="407.1" r="1.69" fill="#e6e6e6"/><circle cx="544.8" cy="407.0" r="1.98" fill="#6e6e6e"/><circle cx="547.9" cy="407.0" r="1.56" fill="#868686"/><circle cx="551.5" cy="406.8" r="1.77" fill="#9e9e9e"/><circle cx="556.0" cy="406.5" r="1.74" fill="#9e9e9e"/><circle cx="559.6" cy="407.1" r="1.58" fill="#868686"/><circle cx="563.4" cy="406.5" r="1.95" fill="#aaaaaa"/><circle cx="445.3" cy="410.2" r="1.75" fill="#6e6e6e"/><circle cx="449.0" cy="410.5" r="1.81" fill="#e6e6e6"/><circle cx="452.4" cy="410.2" r="1.99" fill="#aaaaaa"/><circle cx="456.3" cy="409.8" r="1.84" fill="#d4d4d4"/><circle cx="459.8" cy="409.8" r="1.59" fill="#aaaaaa"/><circle cx="464.1" cy="410.4" r="1.92" fill="#e6e6e6"/><circle cx="467.5" cy="410.0" r="1.55" fill="#6e6e6e"/><circle cx="471.7" cy="410.2" r="1.58" fill="#f2f2f2"/><circle cx="475.0" cy="409.9" r="1.72" fill="#b8b8b8"/><circle cx="479.1" cy="410.4" r="1.90" fill="#6e6e6e"/><circle cx="483.3" cy="409.9" r="1.83" fill="#f2f2f2"/><circle cx="486.7" cy="410.2" r="1.87" fill="#9e9e9e"/><circle cx="490.7" cy="410.5" r="1.82" fill="#b8b8b8"/><circle cx="494.5" cy="410.5" r="1.80" fill="#e6e6e6"/><circle cx="497.8" cy="409.6" r="1.85" fill="#6e6e6e"/><circle cx="502.2" cy="409.6" r="1.60" fill="#aaaaaa"/><circle cx="506.1" cy="410.2" r="1.79" fill="#9e9e9e"/><circle cx="509.8" cy="410.3" r="1.57" fill="#d4d4d4"/><circle cx="513.7" cy="409.9" r="1.95" fill="#949494"/><circle cx="517.5" cy="409.7" r="1.60" fill="#868686"/><circle cx="521.3" cy="409.9" r="1.68" fill="#868686"/><circle cx="525.2" cy="409.9" r="1.76" fill="#6e6e6e"/><circle cx="528.3" cy="409.8" r="1.69" fill="#868686"/><circle cx="532.6" cy="410.1" r="1.71" fill="#b8b8b8"/><circle cx="535.8" cy="410.0" r="1.84" fill="#949494"/><circle cx="539.7" cy="409.7" r="1.63" fill="#6e6e6e"/><circle cx="543.9" cy="410.5" r="1.96" fill="#e6e6e6"/><circle cx="547.3" cy="409.9" r="1.78" fill="#6e6e6e"/><circle cx="551.9" cy="409.8" r="1.85" fill="#9e9e9e"/><circle cx="555.2" cy="410.4" r="1.68" fill="#e6e6e6"/><circle cx="558.7" cy="409.9" r="1.93" fill="#e6e6e6"/><circle cx="562.9" cy="410.1" r="1.98" fill="#d4d4d4"/><circle cx="447.6" cy="413.5" r="1.59" fill="#e6e6e6"/><circle cx="452.2" cy="413.0" r="1.57" fill="#b8b8b8"/><circle cx="456.1" cy="413.1" r="1.88" fill="#e6e6e6"/><circle cx="459.2" cy="413.2" r="1.95" fill="#e6e6e6"/><circle cx="463.0" cy="413.0" r="1.73" fill="#e6e6e6"/><circle cx="467.4" cy="412.8" r="1.58" fill="#868686"/><circle cx="470.4" cy="412.8" r="1.73" fill="#949494"/><circle cx="474.6" cy="412.8" r="1.56" fill="#aaaaaa"/><circle cx="478.5" cy="413.0" r="1.86" fill="#d4d4d4"/><circle cx="482.0" cy="413.1" r="1.76" fill="#d4d4d4"/><circle cx="485.6" cy="413.5" r="1.83" fill="#d4d4d4"/><circle cx="489.4" cy="413.4" r="1.72" fill="#949494"/><circle cx="493.2" cy="413.1" r="1.99" fill="#6e6e6e"/><circle cx="497.3" cy="413.0" r="1.99" fill="#949494"/><circle cx="500.8" cy="413.4" r="1.96" fill="#b8b8b8"/><circle cx="504.8" cy="413.6" r="1.58" fill="#949494"/><circle cx="508.6" cy="413.6" r="1.69" fill="#6e6e6e"/><circle cx="512.7" cy="413.5" r="1.67" fill="#949494"/><circle cx="516.1" cy="413.4" r="1.76" fill="#6e6e6e"/><circle cx="520.5" cy="413.4" r="1.82" fill="#b8b8b8"/><circle cx="524.0" cy="413.7" r="1.75" fill="#d4d4d4"/><circle cx="527.5" cy="413.0" r="1.87" fill="#d4d4d4"/><circle cx="531.4" cy="413.2" r="1.91" fill="#b8b8b8"/><circle cx="535.4" cy="413.0" r="1.83" fill="#868686"/><circle cx="539.4" cy="413.3" r="1.61" fill="#949494"/><circle cx="543.3" cy="413.1" r="1.84" fill="#6e6e6e"/><circle cx="546.8" cy="413.6" r="1.82" fill="#868686"/><circle cx="550.2" cy="413.0" r="1.74" fill="#949494"/><circle cx="554.3" cy="413.7" r="1.68" fill="#b8b8b8"/><circle cx="557.9" cy="413.7" r="1.55" fill="#f2f2f2"/><circle cx="562.5" cy="413.1" r="1.85" fill="#aaaaaa"/><circle cx="447.4" cy="416.7" r="1.70" fill="#6e6e6e"/><circle cx="451.5" cy="416.4" r="1.62" fill="#f2f2f2"/><circle cx="455.1" cy="415.9" r="1.90" fill="#6e6e6e"/><circle cx="459.2" cy="415.9" r="1.55" fill="#949494"/><circle cx="463.2" cy="416.6" r="1.99" fill="#b8b8b8"/><circle cx="466.8" cy="416.1" r="1.84" fill="#aaaaaa"/><circle cx="470.2" cy="416.5" r="1.84" fill="#9e9e9e"/><circle cx="474.5" cy="416.1" r="1.81" fill="#9e9e9e"/><circle cx="478.1" cy="416.4" r="1.81" fill="#aaaaaa"/><circle cx="481.4" cy="416.0" r="1.82" fill="#949494"/><circle cx="485.7" cy="416.3" r="1.95" fill="#f2f2f2"/><circle cx="489.3" cy="415.9" r="1.58" fill="#aaaaaa"/><circle cx="492.6" cy="416.7" r="1.63" fill="#d4d4d4"/><circle cx="497.3" cy="416.8" r="1.76" fill="#6e6e6e"/><circle cx="500.7" cy="415.9" r="1.93" fill="#6e6e6e"/><circle cx="504.6" cy="416.6" r="1.56" fill="#9e9e9e"/><circle cx="508.7" cy="416.9" r="1.99" fill="#9e9e9e"/><circle cx="512.3" cy="416.1" r="1.72" fill="#949494"/><circle cx="515.5" cy="416.1" r="1.57" fill="#f2f2f2"/><circle cx="519.2" cy="416.1" r="1.73" fill="#aaaaaa"/><circle cx="523.8" cy="416.0" r="1.86" fill="#aaaaaa"/><circle cx="527.0" cy="416.3" r="1.62" fill="#6e6e6e"/><circle cx="531.5" cy="416.2" r="1.90" fill="#949494"/><circle cx="535.1" cy="416.8" r="1.89" fill="#868686"/><circle cx="539.1" cy="416.8" r="1.92" fill="#aaaaaa"/><circle cx="542.9" cy="416.5" r="1.88" fill="#6e6e6e"/><circle cx="546.0" cy="416.5" r="1.64" fill="#f2f2f2"/><circle cx="550.1" cy="416.7" r="1.83" fill="#e6e6e6"/><circle cx="554.1" cy="416.3" r="1.83" fill="#b8b8b8"/><circle cx="557.4" cy="416.4" r="1.98" fill="#aaaaaa"/><circle cx="561.7" cy="416.6" r="1.98" fill="#6e6e6e"/><circle cx="450.8" cy="419.4" r="1.77" fill="#d4d4d4"/><circle cx="454.1" cy="420.0" r="1.89" fill="#e6e6e6"/><circle cx="458.0" cy="419.9" r="1.95" fill="#6e6e6e"/><circle cx="461.7" cy="420.0" r="1.63" fill="#aaaaaa"/><circle cx="465.6" cy="419.5" r="1.65" fill="#f2f2f2"/><circle cx="469.2" cy="419.9" r="1.90" fill="#d4d4d4"/><circle cx="473.2" cy="419.1" r="1.59" fill="#e6e6e6"/><circle cx="477.3" cy="419.5" r="1.71" fill="#e6e6e6"/><circle cx="481.1" cy="419.1" r="1.97" fill="#d4d4d4"/><circle cx="485.0" cy="419.8" r="1.57" fill="#d4d4d4"/><circle cx="488.5" cy="419.5" r="1.69" fill="#6e6e6e"/><circle cx="492.2" cy="419.7" r="1.99" fill="#d4d4d4"/><circle cx="496.1" cy="419.9" r="1.82" fill="#d4d4d4"/><circle cx="499.4" cy="419.4" r="1.59" fill="#aaaaaa"/><circle cx="503.5" cy="420.0" r="1.99" fill="#d4d4d4"/><circle cx="507.8" cy="419.4" r="1.76" fill="#d4d4d4"/><circle cx="510.8" cy="419.9" r="1.57" fill="#e6e6e6"/><circle cx="515.5" cy="419.8" r="1.82" fill="#f2f2f2"/><circle cx="519.2" cy="419.4" r="1.92" fill="#6e6e6e"/><circle cx="522.6" cy="419.4" r="1.59" fill="#949494"/><circle cx="526.5" cy="419.9" r="1.85" fill="#aaaaaa"/><circle cx="530.4" cy="419.5" r="1.61" fill="#aaaaaa"/><circle cx="533.6" cy="419.4" r="1.69" fill="#f2f2f2"/><circle cx="537.7" cy="419.7" r="1.63" fill="#d4d4d4"/><circle cx="541.6" cy="419.8" r="1.81" fill="#f2f2f2"/><circle cx="545.5" cy="419.7" r="1.58" fill="#f2f2f2"/><circle cx="548.8" cy="419.7" r="1.74" fill="#868686"/><circle cx="552.8" cy="419.5" r="1.62" fill="#868686"/><circle cx="556.7" cy="419.7" r="1.80" fill="#949494"/><circle cx="560.5" cy="419.5" r="1.93" fill="#6e6e6e"/><circle cx="449.6" cy="422.7" r="1.93" fill="#e6e6e6"/><circle cx="453.3" cy="422.6" r="1.72" fill="#868686"/><circle cx="457.8" cy="423.1" r="1.73" fill="#d4d4d4"/><circle cx="461.7" cy="423.2" r="1.62" fill="#b8b8b8"/><circle cx="465.4" cy="422.7" r="1.68" fill="#e6e6e6"/><circle cx="468.6" cy="422.6" r="1.69" fill="#aaaaaa"/><circle cx="472.4" cy="422.4" r="1.75" fill="#949494"/><circle cx="476.3" cy="422.2" r="1.85" fill="#9e9e9e"/><circle cx="480.1" cy="422.7" r="1.56" fill="#949494"/><circle cx="483.7" cy="422.8" r="1.70" fill="#d4d4d4"/><circle cx="488.0" cy="422.4" r="1.57" fill="#f2f2f2"/><circle cx="491.7" cy="422.5" r="1.64" fill="#949494"/><circle cx="495.9" cy="423.2" r="1.90" fill="#e6e6e6"/><circle cx="499.0" cy="422.7" r="1.86" fill="#f2f2f2"/><circle cx="503.4" cy="422.3" r="1.60" fill="#868686"/><circle cx="507.3" cy="422.8" r="1.90" fill="#e6e6e6"/><circle cx="510.5" cy="422.4" r="1.69" fill="#868686"/><circle cx="514.4" cy="422.4" r="1.93" fill="#6e6e6e"/><circle cx="518.6" cy="422.7" r="1.93" fill="#9e9e9e"/><circle cx="522.3" cy="422.9" r="1.65" fill="#949494"/><circle cx="526.1" cy="422.3" r="1.57" fill="#6e6e6e"/><circle cx="529.5" cy="422.7" r="1.88" fill="#d4d4d4"/><circle cx="533.9" cy="422.5" r="1.98" fill="#9e9e9e"/><circle cx="537.3" cy="423.0" r="1.82" fill="#f2f2f2"/><circle cx="540.9" cy="422.6" r="1.67" fill="#e6e6e6"/><circle cx="544.6" cy="423.0" r="1.75" fill="#868686"/><circle cx="548.9" cy="422.8" r="1.65" fill="#9e9e9e"/><circle cx="552.0" cy="422.5" r="1.66" fill="#9e9e9e"/><circle cx="556.2" cy="422.8" r="1.68" fill="#9e9e9e"/><circle cx="560.3" cy="422.4" r="1.60" fill="#b8b8b8"/><circle cx="453.0" cy="426.1" r="1.65" fill="#6e6e6e"/><circle cx="456.6" cy="425.7" r="1.59" fill="#868686"/><circle cx="460.2" cy="425.8" r="1.84" fill="#949494"/><circle cx="464.4" cy="426.0" r="1.98" fill="#6e6e6e"/><circle cx="468.6" cy="425.4" r="1.80" fill="#f2f2f2"/><circle cx="472.0" cy="426.0" r="1.72" fill="#868686"/><circle cx="476.0" cy="426.2" r="1.61" fill="#e6e6e6"/><circle cx="479.4" cy="425.9" r="1.88" fill="#9e9e9e"/><circle cx="483.4" cy="426.2" r="1.63" fill="#6e6e6e"/><circle cx="487.1" cy="425.5" r="1.67" fill="#b8b8b8"/><circle cx="491.2" cy="425.6" r="1.69" fill="#e6e6e6"/><circle cx="494.3" cy="425.6" r="1.97" fill="#9e9e9e"/><circle cx="498.8" cy="425.7" r="1.58" fill="#868686"/><circle cx="502.2" cy="426.3" r="1.85" fill="#aaaaaa"/><circle cx="506.3" cy="425.8" r="1.58" fill="#949494"/><circle cx="510.4" cy="425.7" r="1.64" fill="#f2f2f2"/><circle cx="513.9" cy="425.6" r="1.86" fill="#949494"/><circle cx="517.3" cy="426.0" r="1.97" fill="#b8b8b8"/><circle cx="521.5" cy="426.1" r="1.80" fill="#9e9e9e"/><circle cx="525.4" cy="426.0" r="1.89" fill="#868686"/><circle cx="528.6" cy="425.8" r="1.93" fill="#949494"/><circle cx="532.3" cy="426.2" r="1.97" fill="#6e6e6e"/><circle cx="536.4" cy="425.9" r="1.70" fill="#9e9e9e"/><circle cx="540.5" cy="426.3" r="1.61" fill="#d4d4d4"/><circle cx="544.0" cy="425.8" r="1.94" fill="#f2f2f2"/><circle cx="547.5" cy="425.8" r="1.98" fill="#b8b8b8"/><circle cx="552.0" cy="426.2" r="1.93" fill="#d4d4d4"/><circle cx="555.4" cy="425.5" r="1.89" fill="#d4d4d4"/><circle cx="559.1" cy="426.1" r="2.00" fill="#949494"/><circle cx="452.4" cy="429.3" r="1.87" fill="#e6e6e6"/><circle cx="456.6" cy="429.0" r="1.93" fill="#6e6e6e"/><circle cx="460.3" cy="428.8" r="1.55" fill="#e6e6e6"/><circle cx="464.2" cy="428.7" r="1.97" fill="#949494"/><circle cx="467.3" cy="428.8" r="1.75" fill="#9e9e9e"/><circle cx="470.9" cy="429.0" r="1.66" fill="#6e6e6e"/><circle cx="475.1" cy="428.7" r="1.55" fill="#aaaaaa"/><circle cx="478.6" cy="428.6" r="1.68" fill="#e6e6e6"/><circle cx="482.5" cy="429.4" r="2.00" fill="#9e9e9e"/><circle cx="486.1" cy="429.1" r="1.60" fill="#868686"/><circle cx="490.4" cy="428.8" r="1.85" fill="#b8b8b8"/><circle cx="494.5" cy="428.6" r="1.89" fill="#868686"/><circle cx="498.0" cy="429.4" r="1.70" fill="#e6e6e6"/><circle cx="501.4" cy="428.9" r="1.72" fill="#aaaaaa"/><circle cx="505.2" cy="429.3" r="1.87" fill="#949494"/><circle cx="509.6" cy="429.3" r="1.69" fill="#f2f2f2"/><circle cx="513.2" cy="428.6" r="1.71" fill="#b8b8b8"/><circle cx="517.4" cy="429.4" r="1.59" fill="#868686"/><circle cx="520.7" cy="429.0" r="1.77" fill="#6e6e6e"/><circle cx="524.8" cy="429.5" r="1.69" fill="#d4d4d4"/><circle cx="528.6" cy="428.7" r="1.60" fill="#aaaaaa"/><circle cx="532.2" cy="429.1" r="1.83" fill="#949494"/><circle cx="536.0" cy="429.2" r="1.78" fill="#6e6e6e"/><circle cx="539.6" cy="428.6" r="1.56" fill="#f2f2f2"/><circle cx="543.7" cy="428.9" r="1.70" fill="#6e6e6e"/><circle cx="547.1" cy="428.8" r="1.67" fill="#6e6e6e"/><circle cx="550.9" cy="429.0" r="1.58" fill="#868686"/><circle cx="554.5" cy="429.4" r="1.68" fill="#949494"/><circle cx="455.5" cy="431.7" r="1.97" fill="#6e6e6e"/><circle cx="459.3" cy="431.7" r="1.78" fill="#aaaaaa"/><circle cx="463.3" cy="431.8" r="1.66" fill="#e6e6e6"/><circle cx="466.3" cy="432.2" r="1.65" fill="#b8b8b8"/><circle cx="470.9" cy="432.6" r="1.81" fill="#6e6e6e"/><circle cx="474.7" cy="432.1" r="1.94" fill="#b8b8b8"/><circle cx="478.1" cy="432.5" r="1.58" fill="#868686"/><circle cx="481.9" cy="432.3" r="1.93" fill="#e6e6e6"/><circle cx="486.1" cy="432.4" r="1.78" fill="#d4d4d4"/><circle cx="489.7" cy="432.0" r="1.86" fill="#868686"/><circle cx="492.8" cy="432.0" r="1.90" fill="#e6e6e6"/><circle cx="497.5" cy="432.0" r="1.72" fill="#aaaaaa"/><circle cx="500.7" cy="432.1" r="1.82" fill="#9e9e9e"/><circle cx="505.0" cy="432.6" r="1.70" fill="#f2f2f2"/><circle cx="508.0" cy="432.4" r="1.89" fill="#aaaaaa"/><circle cx="512.4" cy="432.1" r="1.74" fill="#d4d4d4"/><circle cx="515.8" cy="431.9" r="1.80" fill="#d4d4d4"/><circle cx="519.8" cy="432.0" r="1.71" fill="#9e9e9e"/><circle cx="523.6" cy="431.9" r="1.77" fill="#868686"/><circle cx="527.2" cy="432.5" r="1.89" fill="#f2f2f2"/><circle cx="531.1" cy="431.7" r="1.71" fill="#6e6e6e"/><circle cx="534.9" cy="432.0" r="1.78" fill="#e6e6e6"/><circle cx="538.9" cy="432.3" r="1.64" fill="#6e6e6e"/><circle cx="542.6" cy="432.6" r="1.97" fill="#868686"/><circle cx="546.6" cy="432.2" r="1.60" fill="#9e9e9e"/><circle cx="550.6" cy="432.2" r="1.86" fill="#e6e6e6"/><circle cx="554.4" cy="432.5" r="1.71" fill="#949494"/><circle cx="454.7" cy="435.5" r="1.87" fill="#d4d4d4"/><circle cx="458.3" cy="435.8" r="1.86" fill="#b8b8b8"/><circle cx="462.8" cy="435.1" r="1.82" fill="#9e9e9e"/><circle cx="466.4" cy="434.9" r="1.68" fill="#6e6e6e"/><circle cx="470.1" cy="435.5" r="1.87" fill="#e6e6e6"/><circle cx="473.6" cy="434.8" r="1.85" fill="#868686"/><circle cx="477.5" cy="435.4" r="1.67" fill="#9e9e9e"/><circle cx="480.9" cy="434.9" r="1.82" fill="#d4d4d4"/><circle cx="485.6" cy="435.4" r="1.99" fill="#e6e6e6"/><circle cx="489.0" cy="435.2" r="1.82" fill="#6e6e6e"/><circle cx="492.6" cy="435.5" r="1.61" fill="#868686"/><circle cx="497.0" cy="435.3" r="1.64" fill="#949494"/><circle cx="500.8" cy="435.5" r="1.61" fill="#6e6e6e"/><circle cx="504.4" cy="435.1" r="1.83" fill="#b8b8b8"/><circle cx="508.1" cy="435.0" r="1.72" fill="#f2f2f2"/><circle cx="511.4" cy="435.6" r="1.96" fill="#9e9e9e"/><circle cx="515.5" cy="434.9" r="1.59" fill="#f2f2f2"/><circle cx="519.4" cy="435.0" r="1.81" fill="#9e9e9e"/><circle cx="523.6" cy="435.3" r="1.69" fill="#6e6e6e"/><circle cx="526.7" cy="435.3" r="1.96" fill="#e6e6e6"/><circle cx="530.9" cy="435.3" r="1.83" fill="#b8b8b8"/><circle cx="534.5" cy="435.1" r="1.72" fill="#f2f2f2"/><circle cx="537.9" cy="435.0" r="1.82" fill="#e6e6e6"/><circle cx="542.1" cy="435.3" r="1.92" fill="#aaaaaa"/><circle cx="545.8" cy="435.2" r="1.60" fill="#aaaaaa"/><circle cx="550.0" cy="435.7" r="1.64" fill="#f2f2f2"/><circle cx="553.9" cy="435.3" r="1.70" fill="#b8b8b8"/><circle cx="457.9" cy="438.6" r="1.70" fill="#d4d4d4"/><circle cx="461.4" cy="438.1" r="1.58" fill="#d4d4d4"/><circle cx="465.7" cy="438.1" r="1.95" fill="#9e9e9e"/><circle cx="469.6" cy="438.4" r="1.72" fill="#e6e6e6"/><circle cx="473.0" cy="438.1" r="1.59" fill="#9e9e9e"/><circle cx="476.9" cy="438.9" r="1.67" fill="#868686"/><circle cx="480.8" cy="438.9" r="1.65" fill="#aaaaaa"/><circle cx="484.4" cy="438.9" r="1.56" fill="#b8b8b8"/><circle cx="488.1" cy="438.1" r="1.85" fill="#f2f2f2"/><circle cx="492.2" cy="438.4" r="1.58" fill="#6e6e6e"/><circle cx="495.8" cy="438.6" r="1.63" fill="#e6e6e6"/><circle cx="499.8" cy="438.0" r="1.84" fill="#d4d4d4"/><circle cx="503.4" cy="438.8" r="1.92" fill="#d4d4d4"/><circle cx="507.1" cy="438.8" r="1.79" fill="#f2f2f2"/><circle cx="510.7" cy="438.4" r="1.87" fill="#f2f2f2"/><circle cx="514.6" cy="438.1" r="1.87" fill="#d4d4d4"/><circle cx="518.5" cy="438.2" r="1.99" fill="#e6e6e6"/><circle cx="522.4" cy="438.5" r="1.99" fill="#9e9e9e"/><circle cx="526.6" cy="438.1" r="1.61" fill="#9e9e9e"/><circle cx="530.0" cy="438.6" r="1.86" fill="#f2f2f2"/><circle cx="533.5" cy="438.5" r="1.56" fill="#9e9e9e"/><circle cx="537.0" cy="438.7" r="1.61" fill="#b8b8b8"/><circle cx="541.7" cy="438.2" r="1.79" fill="#e6e6e6"/><circle cx="545.3" cy="438.2" r="1.71" fill="#9e9e9e"/><circle cx="549.3" cy="438.9" r="1.63" fill="#e6e6e6"/><circle cx="552.7" cy="438.1" r="1.91" fill="#9e9e9e"/><circle cx="456.7" cy="442.1" r="1.80" fill="#949494"/><circle cx="461.5" cy="441.9" r="1.96" fill="#d4d4d4"/><circle cx="465.3" cy="441.2" r="1.66" fill="#b8b8b8"/><circle cx="468.9" cy="441.4" r="1.98" fill="#6e6e6e"/><circle cx="472.8" cy="441.3" r="1.90" fill="#6e6e6e"/><circle cx="475.9" cy="441.3" r="1.67" fill="#b8b8b8"/><circle cx="480.3" cy="441.5" r="1.87" fill="#9e9e9e"/><circle cx="483.7" cy="441.1" r="1.70" fill="#868686"/><circle cx="487.3" cy="441.2" r="1.87" fill="#f2f2f2"/><circle cx="491.6" cy="441.7" r="1.86" fill="#e6e6e6"/><circle cx="495.4" cy="441.7" r="1.91" fill="#e6e6e6"/><circle cx="499.0" cy="441.6" r="1.59" fill="#949494"/><circle cx="503.0" cy="441.9" r="1.92" fill="#6e6e6e"/><circle cx="506.3" cy="441.5" r="1.98" fill="#868686"/><circle cx="509.9" cy="441.2" r="1.74" fill="#e6e6e6"/><circle cx="514.1" cy="442.1" r="1.60" fill="#9e9e9e"/><circle cx="517.7" cy="441.2" r="1.99" fill="#b8b8b8"/><circle cx="521.4" cy="441.2" r="1.83" fill="#e6e6e6"/><circle cx="525.2" cy="441.9" r="1.88" fill="#868686"/><circle cx="529.6" cy="441.4" r="1.60" fill="#aaaaaa"/><circle cx="533.0" cy="442.1" r="1.75" fill="#6e6e6e"/><circle cx="537.3" cy="441.7" r="1.61" fill="#d4d4d4"/><circle cx="541.3" cy="441.5" r="1.78" fill="#9e9e9e"/><circle cx="544.4" cy="441.3" r="1.74" fill="#e6e6e6"/><circle cx="548.8" cy="441.7" r="1.86" fill="#868686"/><circle cx="551.8" cy="441.4" r="1.92" fill="#aaaaaa"/><circle cx="460.3" cy="444.9" r="1.60" fill="#aaaaaa"/><circle cx="464.3" cy="444.5" r="1.79" fill="#f2f2f2"/><circle cx="467.8" cy="444.4" r="1.77" fill="#6e6e6e"/><circle cx="471.1" cy="444.6" r="1.66" fill="#b8b8b8"/><circle cx="475.5" cy="444.8" r="1.62" fill="#868686"/><circle cx="478.8" cy="445.0" r="1.95" fill="#e6e6e6"/><circle cx="482.8" cy="444.8" r="1.95" fill="#949494"/><circle cx="486.5" cy="444.9" r="1.97" fill="#b8b8b8"/><circle cx="490.2" cy="444.9" r="1.74" fill="#868686"/><circle cx="494.5" cy="445.0" r="1.74" fill="#b8b8b8"/><circle cx="498.2" cy="445.1" r="1.88" fill="#b8b8b8"/><circle cx="501.8" cy="444.4" r="1.99" fill="#868686"/><circle cx="505.5" cy="445.0" r="1.83" fill="#aaaaaa"/><circle cx="510.0" cy="444.9" r="1.61" fill="#f2f2f2"/><circle cx="513.3" cy="445.0" r="1.96" fill="#b8b8b8"/><circle cx="517.4" cy="444.7" r="1.84" fill="#e6e6e6"/><circle cx="520.5" cy="445.0" r="1.90" fill="#9e9e9e"/><circle cx="525.0" cy="444.7" r="1.77" fill="#e6e6e6"/><circle cx="528.1" cy="444.4" r="1.87" fill="#868686"/><circle cx="532.8" cy="444.4" r="1.59" fill="#d4d4d4"/><circle cx="535.9" cy="445.1" r="1.65" fill="#9e9e9e"/><circle cx="540.2" cy="445.0" r="1.74" fill="#6e6e6e"/><circle cx="543.8" cy="444.6" r="1.69" fill="#6e6e6e"/><circle cx="547.3" cy="444.3" r="1.56" fill="#b8b8b8"/><circle cx="551.7" cy="444.5" r="1.75" fill="#d4d4d4"/><circle cx="459.7" cy="447.6" r="1.80" fill="#d4d4d4"/><circle cx="463.8" cy="448.0" r="1.66" fill="#6e6e6e"/><circle cx="467.5" cy="447.8" r="1.71" fill="#b8b8b8"/><circle cx="470.8" cy="448.3" r="1.77" fill="#9e9e9e"/><circle cx="475.0" cy="448.4" r="1.84" fill="#e6e6e6"/><circle cx="478.6" cy="448.2" r="1.79" fill="#b8b8b8"/><circle cx="482.9" cy="448.1" r="1.71" fill="#868686"/><circle cx="486.7" cy="448.0" r="1.85" fill="#9e9e9e"/><circle cx="489.9" cy="448.2" r="1.81" fill="#aaaaaa"/><circle cx="494.2" cy="448.3" r="1.70" fill="#f2f2f2"/><circle cx="497.2" cy="448.3" r="1.74" fill="#e6e6e6"/><circle cx="501.2" cy="448.3" r="1.66" fill="#9e9e9e"/><circle cx="505.0" cy="447.9" r="1.79" fill="#b8b8b8"/><circle cx="509.2" cy="448.1" r="1.87" fill="#b8b8b8"/><circle cx="512.8" cy="447.8" r="1.85" fill="#f2f2f2"/><circle cx="516.4" cy="448.2" r="1.62" fill="#e6e6e6"/><circle cx="520.7" cy="447.6" r="1.87" fill="#f2f2f2"/><circle cx="524.5" cy="447.7" r="1.78" fill="#b8b8b8"/><circle cx="527.9" cy="448.3" r="1.68" fill="#b8b8b8"/><circle cx="531.6" cy="447.8" r="1.63" fill="#f2f2f2"/><circle cx="535.2" cy="447.4" r="1.82" fill="#e6e6e6"/><circle cx="539.4" cy="447.9" r="1.78" fill="#868686"/><circle cx="543.1" cy="447.8" r="1.91" fill="#f2f2f2"/><circle cx="546.8" cy="448.3" r="1.64" fill="#b8b8b8"/><circle cx="551.1" cy="447.9" r="1.89" fill="#f2f2f2"/><circle cx="462.2" cy="451.4" r="1.67" fill="#9e9e9e"/><circle cx="466.7" cy="451.3" r="1.69" fill="#949494"/><circle cx="470.1" cy="451.3" r="1.58" fill="#868686"/><circle cx="474.3" cy="450.7" r="1.97" fill="#868686"/><circle cx="478.2" cy="451.5" r="1.81" fill="#9e9e9e"/><circle cx="481.8" cy="451.3" r="1.97" fill="#9e9e9e"/><circle cx="485.5" cy="451.4" r="1.91" fill="#6e6e6e"/><circle cx="489.2" cy="451.2" r="1.65" fill="#9e9e9e"/><circle cx="493.3" cy="451.1" r="2.00" fill="#b8b8b8"/><circle cx="497.1" cy="451.2" r="1.79" fill="#868686"/><circle cx="500.3" cy="450.9" r="1.79" fill="#aaaaaa"/><circle cx="503.9" cy="451.2" r="1.77" fill="#868686"/><circle cx="508.1" cy="451.2" r="1.77" fill="#868686"/><circle cx="512.4" cy="451.4" r="1.88" fill="#f2f2f2"/><circle cx="516.0" cy="450.7" r="1.95" fill="#6e6e6e"/><circle cx="519.9" cy="450.7" r="1.64" fill="#9e9e9e"/><circle cx="523.2" cy="450.7" r="1.56" fill="#6e6e6e"/><circle cx="526.9" cy="451.2" r="1.86" fill="#e6e6e6"/><circle cx="530.9" cy="451.0" r="1.90" fill="#9e9e9e"/><circle cx="535.1" cy="451.1" r="1.76" fill="#f2f2f2"/><circle cx="538.3" cy="451.3" r="1.61" fill="#d4d4d4"/><circle cx="542.5" cy="451.2" r="1.86" fill="#9e9e9e"/><circle cx="546.6" cy="451.2" r="1.64" fill="#aaaaaa"/><circle cx="549.9" cy="451.3" r="1.62" fill="#6e6e6e"/><circle cx="462.4" cy="454.3" r="1.55" fill="#e6e6e6"/><circle cx="465.6" cy="454.4" r="1.80" fill="#868686"/><circle cx="469.7" cy="453.8" r="1.89" fill="#949494"/><circle cx="473.2" cy="454.4" r="1.62" fill="#d4d4d4"/><circle cx="477.7" cy="454.7" r="1.65" fill="#868686"/><circle cx="480.6" cy="453.9" r="1.63" fill="#949494"/><circle cx="484.7" cy="453.8" r="1.59" fill="#f2f2f2"/><circle cx="488.8" cy="454.1" r="1.74" fill="#868686"/><circle cx="492.1" cy="454.1" r="1.70" fill="#949494"/><circle cx="496.4" cy="454.3" r="1.68" fill="#f2f2f2"/><circle cx="500.3" cy="454.5" r="1.97" fill="#b8b8b8"/><circle cx="503.7" cy="454.3" r="1.60" fill="#e6e6e6"/><circle cx="507.4" cy="454.6" r="1.62" fill="#e6e6e6"/><circle cx="511.4" cy="453.9" r="1.78" fill="#9e9e9e"/><circle cx="515.0" cy="454.2" r="1.99" fill="#aaaaaa"/><circle cx="519.2" cy="454.2" r="1.78" fill="#868686"/><circle cx="522.5" cy="454.4" r="1.97" fill="#868686"/><circle cx="527.0" cy="453.9" r="1.69" fill="#f2f2f2"/><circle cx="530.9" cy="454.3" r="1.72" fill="#6e6e6e"/><circle cx="534.2" cy="454.4" r="1.99" fill="#949494"/><circle cx="538.3" cy="454.4" r="1.86" fill="#949494"/><circle cx="541.8" cy="454.4" r="1.95" fill="#e6e6e6"/><circle cx="546.0" cy="454.4" r="1.72" fill="#6e6e6e"/><circle cx="464.6" cy="457.1" r="1.93" fill="#aaaaaa"/><circle cx="469.1" cy="457.8" r="1.60" fill="#9e9e9e"/><circle cx="472.9" cy="457.3" r="1.69" fill="#9e9e9e"/><circle cx="476.6" cy="457.3" r="1.64" fill="#aaaaaa"/><circle cx="480.0" cy="457.4" r="1.80" fill="#f2f2f2"/><circle cx="483.5" cy="457.5" r="1.78" fill="#949494"/><circle cx="488.1" cy="457.7" r="1.70" fill="#aaaaaa"/><circle cx="491.2" cy="457.3" r="1.64" fill="#f2f2f2"/><circle cx="495.9" cy="456.9" r="1.86" fill="#e6e6e6"/><circle cx="499.1" cy="457.6" r="1.59" fill="#9e9e9e"/><circle cx="503.1" cy="457.0" r="1.79" fill="#9e9e9e"/><circle cx="507.0" cy="457.5" r="1.93" fill="#f2f2f2"/><circle cx="510.6" cy="457.4" r="1.78" fill="#6e6e6e"/><circle cx="514.3" cy="457.7" r="1.57" fill="#d4d4d4"/><circle cx="517.8" cy="457.3" r="1.73" fill="#d4d4d4"/><circle cx="521.6" cy="457.4" r="1.81" fill="#9e9e9e"/><circle cx="526.2" cy="457.0" r="2.00" fill="#aaaaaa"/><circle cx="529.7" cy="457.8" r="1.76" fill="#b8b8b8"/><circle cx="533.7" cy="457.1" r="1.93" fill="#d4d4d4"/><circle cx="537.1" cy="457.4" r="1.88" fill="#f2f2f2"/><circle cx="540.9" cy="457.0" r="1.74" fill="#868686"/><circle cx="544.8" cy="457.2" r="1.90" fill="#6e6e6e"/><circle cx="464.0" cy="460.1" r="1.99" fill="#949494"/><circle cx="468.1" cy="460.2" r="1.83" fill="#d4d4d4"/><circle cx="472.2" cy="460.1" r="1.88" fill="#f2f2f2"/><circle cx="475.5" cy="460.6" r="1.94" fill="#f2f2f2"/><circle cx="480.1" cy="460.7" r="1.79" fill="#868686"/><circle cx="484.0" cy="460.1" r="1.80" fill="#b8b8b8"/><circle cx="487.1" cy="460.8" r="1.69" fill="#6e6e6e"/><circle cx="491.5" cy="460.9" r="1.59" fill="#6e6e6e"/><circle cx="494.8" cy="460.7" r="1.68" fill="#868686"/><circle cx="498.6" cy="460.1" r="1.96" fill="#aaaaaa"/><circle cx="502.2" cy="460.1" r="1.99" fill="#b8b8b8"/><circle cx="505.8" cy="460.9" r="1.68" fill="#d4d4d4"/><circle cx="509.7" cy="460.6" r="1.71" fill="#f2f2f2"/><circle cx="513.7" cy="460.8" r="1.73" fill="#949494"/><circle cx="517.3" cy="460.3" r="1.96" fill="#9e9e9e"/><circle cx="521.6" cy="461.0" r="1.63" fill="#aaaaaa"/><circle cx="525.6" cy="460.9" r="1.58" fill="#f2f2f2"/><circle cx="528.7" cy="460.9" r="1.61" fill="#e6e6e6"/><circle cx="532.5" cy="461.0" r="1.88" fill="#b8b8b8"/><circle cx="536.6" cy="460.8" r="1.56" fill="#f2f2f2"/><circle cx="540.4" cy="460.8" r="1.88" fill="#d4d4d4"/><circle cx="544.3" cy="460.6" r="1.79" fill="#f2f2f2"/><circle cx="467.1" cy="463.9" r="1.84" fill="#d4d4d4"/><circle cx="470.9" cy="464.1" r="1.94" fill="#868686"/><circle cx="474.8" cy="463.8" r="1.77" fill="#b8b8b8"/><circle cx="478.8" cy="463.3" r="1.72" fill="#949494"/><circle cx="482.6" cy="463.7" r="1.63" fill="#9e9e9e"/><circle cx="486.0" cy="464.0" r="1.80" fill="#9e9e9e"/><circle cx="490.3" cy="463.2" r="1.79" fill="#b8b8b8"/><circle cx="493.8" cy="463.3" r="1.69" fill="#f2f2f2"/><circle cx="497.6" cy="463.5" r="1.96" fill="#d4d4d4"/><circle cx="501.7" cy="463.5" r="1.60" fill="#949494"/><circle cx="505.9" cy="463.6" r="1.84" fill="#949494"/><circle cx="509.6" cy="463.4" r="1.87" fill="#949494"/><circle cx="513.2" cy="463.9" r="1.65" fill="#b8b8b8"/><circle cx="517.2" cy="463.4" r="1.83" fill="#6e6e6e"/><circle cx="520.8" cy="464.0" r="1.87" fill="#e6e6e6"/><circle cx="524.9" cy="463.7" r="1.86" fill="#aaaaaa"/><circle cx="528.2" cy="463.4" r="1.93" fill="#d4d4d4"/><circle cx="532.3" cy="463.4" r="1.91" fill="#f2f2f2"/><circle cx="536.2" cy="463.7" r="1.70" fill="#6e6e6e"/><circle cx="539.5" cy="464.1" r="1.70" fill="#868686"/><circle cx="543.1" cy="463.9" r="1.80" fill="#868686"/><circle cx="467.2" cy="467.2" r="1.63" fill="#aaaaaa"/><circle cx="471.2" cy="466.6" r="1.86" fill="#aaaaaa"/><circle cx="474.8" cy="466.7" r="1.92" fill="#b8b8b8"/><circle cx="478.0" cy="466.5" r="1.94" fill="#9e9e9e"/><circle cx="481.8" cy="466.8" r="1.76" fill="#949494"/><circle cx="486.2" cy="466.3" r="1.90" fill="#d4d4d4"/><circle cx="489.6" cy="466.4" r="1.65" fill="#b8b8b8"/><circle cx="493.3" cy="466.4" r="1.80" fill="#f2f2f2"/><circle cx="497.5" cy="466.6" r="1.87" fill="#f2f2f2"/><circle cx="500.8" cy="466.3" r="2.00" fill="#f2f2f2"/><circle cx="504.6" cy="466.8" r="1.66" fill="#e6e6e6"/><circle cx="508.3" cy="466.9" r="1.83" fill="#e6e6e6"/><circle cx="512.9" cy="467.2" r="1.59" fill="#e6e6e6"/><circle cx="516.3" cy="466.5" r="1.97" fill="#f2f2f2"/><circle cx="520.3" cy="467.0" r="1.76" fill="#b8b8b8"/><circle cx="523.8" cy="467.0" r="1.87" fill="#949494"/><circle cx="527.7" cy="466.7" r="1.80" fill="#b8b8b8"/><circle cx="531.2" cy="466.8" r="1.69" fill="#6e6e6e"/><circle cx="535.5" cy="466.3" r="1.76" fill="#f2f2f2"/><circle cx="539.4" cy="466.4" r="1.99" fill="#868686"/><circle cx="542.9" cy="466.9" r="1.58" fill="#d4d4d4"/><circle cx="469.7" cy="470.4" r="1.56" fill="#868686"/><circle cx="473.6" cy="470.1" r="1.75" fill="#d4d4d4"/><circle cx="477.7" cy="470.2" r="1.64" fill="#9e9e9e"/><circle cx="481.5" cy="470.4" r="1.71" fill="#949494"/><circle cx="485.6" cy="470.0" r="1.91" fill="#e6e6e6"/><circle cx="488.9" cy="470.3" r="1.78" fill="#868686"/><circle cx="492.3" cy="470.1" r="1.84" fill="#b8b8b8"/><circle cx="496.0" cy="470.2" r="1.97" fill="#868686"/><circle cx="500.4" cy="470.0" r="1.89" fill="#e6e6e6"/><circle cx="504.6" cy="470.0" r="1.92" fill="#9e9e9e"/><circle cx="507.7" cy="470.1" r="1.73" fill="#f2f2f2"/><circle cx="511.9" cy="469.5" r="1.74" fill="#949494"/><circle cx="515.8" cy="469.9" r="1.60" fill="#b8b8b8"/><circle cx="519.2" cy="470.4" r="1.77" fill="#b8b8b8"/><circle cx="522.6" cy="470.4" r="1.80" fill="#d4d4d4"/><circle cx="527.1" cy="469.6" r="1.86" fill="#e6e6e6"/><circle cx="530.6" cy="470.2" r="1.90" fill="#aaaaaa"/><circle cx="534.5" cy="470.0" r="1.87" fill="#868686"/><circle cx="538.3" cy="470.3" r="1.57" fill="#6e6e6e"/><circle cx="542.5" cy="469.6" r="1.63" fill="#6e6e6e"/><circle cx="469.4" cy="472.7" r="1.64" fill="#f2f2f2"/><circle cx="473.2" cy="473.6" r="1.83" fill="#b8b8b8"/><circle cx="477.1" cy="473.4" r="1.56" fill="#6e6e6e"/><circle cx="481.2" cy="473.6" r="2.00" fill="#f2f2f2"/><circle cx="485.0" cy="473.2" r="1.95" fill="#d4d4d4"/><circle cx="488.0" cy="473.2" r="1.86" fill="#aaaaaa"/><circle cx="491.9" cy="472.7" r="1.68" fill="#949494"/><circle cx="496.0" cy="473.3" r="1.75" fill="#f2f2f2"/><circle cx="499.6" cy="473.5" r="1.81" fill="#d4d4d4"/><circle cx="503.4" cy="473.5" r="1.88" fill="#9e9e9e"/><circle cx="507.7" cy="473.5" r="1.81" fill="#d4d4d4"/><circle cx="510.8" cy="473.5" r="1.85" fill="#949494"/><circle cx="515.1" cy="473.3" r="1.96" fill="#9e9e9e"/><circle cx="519.1" cy="472.9" r="1.56" fill="#6e6e6e"/><circle cx="522.7" cy="473.1" r="1.82" fill="#6e6e6e"/><circle cx="526.8" cy="473.1" r="1.97" fill="#6e6e6e"/><circle cx="530.1" cy="473.1" r="1.82" fill="#f2f2f2"/><circle cx="533.7" cy="473.0" r="1.82" fill="#949494"/><circle cx="537.4" cy="473.0" r="1.88" fill="#868686"/><circle cx="541.9" cy="473.1" r="1.56" fill="#868686"/><circle cx="472.1" cy="476.3" r="1.63" fill="#b8b8b8"/><circle cx="476.4" cy="476.1" r="1.96" fill="#6e6e6e"/><circle cx="479.8" cy="476.5" r="1.96" fill="#d4d4d4"/><circle cx="484.1" cy="475.9" r="1.70" fill="#949494"/><circle cx="487.8" cy="476.7" r="1.61" fill="#d4d4d4"/><circle cx="491.1" cy="476.4" r="1.56" fill="#868686"/><circle cx="495.4" cy="476.4" r="1.93" fill="#6e6e6e"/><circle cx="498.7" cy="475.8" r="1.91" fill="#9e9e9e"/><circle cx="502.5" cy="476.3" r="1.97" fill="#e6e6e6"/><circle cx="507.0" cy="476.6" r="1.60" fill="#f2f2f2"/><circle cx="509.9" cy="476.5" r="1.59" fill="#868686"/><circle cx="514.4" cy="476.4" r="1.98" fill="#949494"/><circle cx="518.3" cy="476.5" r="1.85" fill="#949494"/><circle cx="522.2" cy="476.7" r="1.86" fill="#d4d4d4"/><circle cx="525.4" cy="476.2" r="1.72" fill="#9e9e9e"/><circle cx="529.5" cy="476.6" r="1.96" fill="#9e9e9e"/><circle cx="533.1" cy="476.5" r="1.59" fill="#f2f2f2"/><circle cx="536.6" cy="476.0" r="1.72" fill="#d4d4d4"/><circle cx="540.8" cy="476.2" r="1.94" fill="#949494"/><circle cx="472.1" cy="479.6" r="1.67" fill="#d4d4d4"/><circle cx="476.0" cy="479.5" r="1.84" fill="#6e6e6e"/><circle cx="479.5" cy="479.5" r="1.62" fill="#aaaaaa"/><circle cx="483.5" cy="479.2" r="1.87" fill="#d4d4d4"/><circle cx="486.6" cy="479.5" r="1.63" fill="#9e9e9e"/><circle cx="491.1" cy="479.2" r="1.86" fill="#aaaaaa"/><circle cx="494.6" cy="479.0" r="1.58" fill="#868686"/><circle cx="498.7" cy="478.9" r="1.83" fill="#b8b8b8"/><circle cx="502.0" cy="479.0" r="1.94" fill="#868686"/><circle cx="506.1" cy="478.9" r="1.63" fill="#aaaaaa"/><circle cx="509.9" cy="479.2" r="1.69" fill="#f2f2f2"/><circle cx="513.8" cy="478.9" r="1.57" fill="#6e6e6e"/><circle cx="517.8" cy="479.3" r="1.58" fill="#aaaaaa"/><circle cx="520.9" cy="479.9" r="1.65" fill="#868686"/><circle cx="525.4" cy="479.7" r="1.59" fill="#aaaaaa"/><circle cx="529.3" cy="479.6" r="1.91" fill="#6e6e6e"/><circle cx="532.7" cy="478.9" r="1.61" fill="#aaaaaa"/><circle cx="536.4" cy="479.6" r="1.80" fill="#b8b8b8"/><circle cx="540.6" cy="478.9" r="1.68" fill="#6e6e6e"/><circle cx="474.9" cy="482.9" r="1.62" fill="#868686"/><circle cx="478.4" cy="482.4" r="1.66" fill="#868686"/><circle cx="481.9" cy="482.1" r="1.82" fill="#aaaaaa"/><circle cx="486.5" cy="482.3" r="1.61" fill="#e6e6e6"/><circle cx="489.6" cy="482.3" r="1.74" fill="#aaaaaa"/><circle cx="493.9" cy="482.6" r="1.92" fill="#d4d4d4"/><circle cx="498.0" cy="482.9" r="1.65" fill="#e6e6e6"/><circle cx="501.3" cy="482.5" r="1.95" fill="#868686"/><circle cx="504.8" cy="482.7" r="1.65" fill="#9e9e9e"/><circle cx="508.6" cy="482.9" r="1.72" fill="#9e9e9e"/><circle cx="513.1" cy="482.8" r="1.76" fill="#d4d4d4"/><circle cx="516.2" cy="483.0" r="1.80" fill="#aaaaaa"/><circle cx="520.4" cy="482.6" r="1.79" fill="#e6e6e6"/><circle cx="523.9" cy="482.7" r="1.84" fill="#b8b8b8"/><circle cx="528.4" cy="482.3" r="1.82" fill="#f2f2f2"/><circle cx="531.4" cy="482.1" r="1.79" fill="#f2f2f2"/><circle cx="535.3" cy="482.8" r="1.83" fill="#6e6e6e"/><circle cx="539.4" cy="482.1" r="1.84" fill="#949494"/></g>
<path d="M477.8,399.6 C477.6,383.0 477.1,372.3 477.5,366.3 C478.8,372.3 480.9,383.0 481.3,399.6 Z" fill="#8fe28c"/><path d="M472.6,399.6 C472.4,382.8 471.9,372.0 472.3,365.9 C473.4,372.0 475.3,382.8 475.6,399.6 Z" fill="#74d674"/><path d="M522.4,399.6 C522.2,389.9 521.7,383.8 522.1,380.3 C523.1,383.8 524.9,389.9 525.2,399.6 Z" fill="#8fe28c"/><path d="M515.4,399.6 C515.2,388.1 514.6,380.8 515.1,376.6 C516.4,380.8 518.6,388.1 519.0,399.6 Z" fill="#74d674"/><path d="M520.8,399.6 C521.3,386.2 523.7,377.7 525.1,372.9 C525.5,377.7 524.6,386.2 524.3,399.6 Z" fill="#c0f2bc"/><path d="M462.4,399.6 C462.1,387.1 460.9,379.1 461.2,374.6 C462.6,379.1 465.3,387.1 465.9,399.6 Z" fill="#8fe28c"/><path d="M489.6,399.6 C489.5,390.1 489.7,384.0 490.3,380.6 C491.2,384.0 492.4,390.1 492.6,399.6 Z" fill="#c0f2bc"/><path d="M494.6,399.6 C494.8,389.4 495.9,382.9 496.8,379.2 C497.4,382.9 497.6,389.4 497.6,399.6 Z" fill="#c0f2bc"/><path d="M532.4,399.6 C532.6,389.0 534.0,382.1 535.0,378.3 C535.6,382.1 535.7,389.0 535.6,399.6 Z" fill="#a8eca4"/><path d="M471.8,399.6 C471.5,388.3 470.8,381.0 471.0,376.9 C472.0,381.0 473.7,388.3 474.0,399.6 Z" fill="#8fe28c"/><path d="M477.8,399.6 C477.4,382.2 476.3,371.1 476.3,364.8 C477.4,371.1 479.5,382.2 479.9,399.6 Z" fill="#a8eca4"/><path d="M483.9,399.6 C484.2,386.3 485.7,377.8 486.6,373.0 C487.0,377.8 486.7,386.3 486.6,399.6 Z" fill="#8fe28c"/><path d="M469.2,399.6 C468.9,384.6 468.2,374.9 468.4,369.5 C469.4,374.9 471.2,384.6 471.6,399.6 Z" fill="#74d674"/><path d="M497.6,399.6 C497.6,386.1 497.6,377.5 498.1,372.7 C498.9,377.5 499.9,386.1 500.1,399.6 Z" fill="#c0f2bc"/><path d="M538.5,399.6 C538.6,391.7 539.5,386.6 540.5,383.8 C541.3,386.6 542.0,391.7 542.0,399.6 Z" fill="#a8eca4"/><path d="M479.9,399.6 C479.6,388.7 478.7,381.7 478.8,377.8 C479.8,381.7 481.7,388.7 482.0,399.6 Z" fill="#c0f2bc"/><path d="M515.7,399.6 C515.8,388.9 516.7,382.0 517.5,378.1 C518.3,382.0 518.8,388.9 518.9,399.6 Z" fill="#8fe28c"/><path d="M497.9,399.6 C498.3,383.6 500.6,373.4 501.9,367.6 C502.2,373.4 501.5,383.6 501.2,399.6 Z" fill="#74d674"/><path d="M464.3,399.6 C464.8,389.1 467.3,382.3 468.7,378.5 C469.0,382.3 467.9,389.1 467.6,399.6 Z" fill="#c0f2bc"/><path d="M479.5,399.6 C479.3,386.3 479.1,377.7 479.7,372.9 C480.8,377.7 482.4,386.3 482.7,399.6 Z" fill="#a8eca4"/><path d="M500.6,399.6 C500.4,387.1 499.7,379.1 499.9,374.6 C500.8,379.1 502.4,387.1 502.7,399.6 Z" fill="#74d674"/><path d="M512.8,399.6 C512.9,389.8 513.5,383.5 514.1,380.0 C514.7,383.5 515.3,389.8 515.3,399.6 Z" fill="#74d674"/><path d="M536.2,399.6 C536.5,391.0 538.5,385.6 539.7,382.5 C540.1,385.6 539.5,391.0 539.2,399.6 Z" fill="#74d674"/><path d="M535.1,399.6 C535.2,390.0 535.9,383.9 536.6,380.4 C537.4,383.9 538.0,390.0 538.1,399.6 Z" fill="#a8eca4"/><path d="M520.3,399.6 C520.2,388.4 520.0,381.2 520.4,377.2 C521.2,381.2 522.4,388.4 522.6,399.6 Z" fill="#a8eca4"/><path d="M519.3,399.6 C519.7,390.1 521.9,384.1 523.2,380.7 C523.6,384.1 523.0,390.1 522.8,399.6 Z" fill="#c0f2bc"/><path d="M510.7,399.6 C511.0,390.4 512.3,384.5 513.4,381.1 C514.1,384.5 514.2,390.4 514.2,399.6 Z" fill="#8fe28c"/><path d="M477.6,399.6 C477.4,383.9 477.3,373.9 478.0,368.2 C479.1,373.9 480.8,383.9 481.1,399.6 Z" fill="#c0f2bc"/><path d="M507.7,399.6 C507.6,389.3 507.7,382.7 508.1,379.0 C508.8,382.7 509.8,389.3 510.0,399.6 Z" fill="#8fe28c"/><path d="M536.9,399.6 C536.9,392.5 537.1,388.0 537.8,385.5 C538.7,388.0 539.8,392.5 539.9,399.6 Z" fill="#8fe28c"/><path d="M530.5,399.6 C530.8,391.0 532.0,385.5 532.8,382.4 C533.1,385.5 533.0,391.0 532.9,399.6 Z" fill="#74d674"/><path d="M494.3,399.6 C494.5,384.8 495.4,375.3 496.3,370.0 C497.1,375.3 497.7,384.8 497.7,399.6 Z" fill="#c0f2bc"/><path d="M495.9,399.6 C496.3,383.8 498.6,373.6 499.8,367.9 C500.0,373.6 498.9,383.8 498.6,399.6 Z" fill="#c0f2bc"/><path d="M478.9,399.6 C478.9,384.3 479.3,374.5 480.0,369.0 C480.9,374.5 481.9,384.3 482.1,399.6 Z" fill="#8fe28c"/><path d="M499.5,399.6 C499.9,385.0 502.2,375.7 503.5,370.4 C503.7,375.7 502.8,385.0 502.5,399.6 Z" fill="#a8eca4"/><path d="M532.7,399.6 C532.7,388.9 533.3,382.0 534.2,378.1 C535.1,382.0 536.1,388.9 536.2,399.6 Z" fill="#8fe28c"/><path d="M467.7,399.6 C467.3,385.1 466.3,375.8 466.6,370.6 C468.0,375.8 470.7,385.1 471.2,399.6 Z" fill="#c0f2bc"/><path d="M524.9,399.6 C524.8,388.0 524.4,380.6 524.8,376.4 C525.6,380.6 526.9,388.0 527.2,399.6 Z" fill="#8fe28c"/><path d="M475.2,399.6 C475.5,387.7 477.1,380.1 478.1,375.8 C478.3,380.1 477.8,387.7 477.6,399.6 Z" fill="#8fe28c"/><path d="M531.3,399.6 C531.3,386.3 531.5,377.9 532.0,373.1 C532.7,377.9 533.4,386.3 533.5,399.6 Z" fill="#8fe28c"/><path d="M478.5,399.6 C479.0,387.7 481.4,380.0 482.7,375.7 C482.9,380.0 481.9,387.7 481.6,399.6 Z" fill="#8fe28c"/><path d="M484.3,399.6 C483.9,390.1 482.5,384.0 482.5,380.6 C483.7,384.0 486.1,390.1 486.6,399.6 Z" fill="#8fe28c"/><path d="M472.1,399.6 C472.2,383.9 473.0,373.9 473.7,368.3 C474.3,373.9 474.7,383.9 474.7,399.6 Z" fill="#c0f2bc"/><path d="M525.4,399.6 C525.1,389.4 524.0,382.9 524.2,379.2 C525.4,382.9 527.7,389.4 528.2,399.6 Z" fill="#a8eca4"/><path d="M478.3,399.6 C478.3,386.5 478.7,378.2 479.4,373.5 C480.2,378.2 481.3,386.5 481.4,399.6 Z" fill="#74d674"/><path d="M489.8,399.6 C490.1,389.5 491.7,383.0 492.5,379.4 C492.7,383.0 492.1,389.5 491.9,399.6 Z" fill="#a8eca4"/><path d="M520.6,399.6 C520.2,387.9 518.8,380.5 518.8,376.2 C519.9,380.5 522.2,387.9 522.7,399.6 Z" fill="#c0f2bc"/><path d="M541.0,399.6 C541.0,392.7 541.5,388.4 542.3,385.9 C543.3,388.4 544.4,392.7 544.5,399.6 Z" fill="#a8eca4"/><path d="M469.1,399.6 C469.0,386.5 469.2,378.1 469.7,373.3 C470.4,378.1 471.4,386.5 471.6,399.6 Z" fill="#74d674"/><path d="M475.9,399.6 C476.0,384.2 476.5,374.3 477.3,368.8 C478.1,374.3 478.9,384.2 479.0,399.6 Z" fill="#c0f2bc"/><path d="M526.1,399.6 C525.8,385.4 524.9,376.4 525.1,371.3 C526.3,376.4 528.5,385.4 529.0,399.6 Z" fill="#c0f2bc"/><path d="M476.8,399.6 C476.9,386.1 477.5,377.4 478.2,372.5 C478.7,377.4 479.2,386.1 479.2,399.6 Z" fill="#8fe28c"/><path d="M485.8,399.6 C486.0,389.6 487.2,383.2 488.0,379.6 C488.3,383.2 488.1,389.6 488.0,399.6 Z" fill="#a8eca4"/><path d="M530.0,399.6 C530.5,386.1 533.0,377.5 534.3,372.7 C534.4,377.5 533.1,386.1 532.8,399.6 Z" fill="#8fe28c"/><path d="M468.5,399.6 C468.5,389.2 468.8,382.5 469.5,378.8 C470.4,382.5 471.4,389.2 471.6,399.6 Z" fill="#c0f2bc"/><path d="M468.5,399.6 C468.5,385.0 468.9,375.7 469.5,370.4 C470.2,375.7 471.1,385.0 471.3,399.6 Z" fill="#a8eca4"/><path d="M533.7,399.6 C534.1,391.2 536.4,385.9 537.7,382.9 C538.1,385.9 537.4,391.2 537.1,399.6 Z" fill="#8fe28c"/><path d="M483.8,399.6 C484.0,387.3 485.3,379.5 486.2,375.0 C486.9,379.5 487.2,387.3 487.2,399.6 Z" fill="#8fe28c"/><path d="M497.7,399.6 C497.7,388.5 498.0,381.4 498.5,377.3 C499.2,381.4 499.9,388.5 500.0,399.6 Z" fill="#c0f2bc"/><path d="M525.7,399.6 C526.0,388.4 527.6,381.2 528.7,377.2 C529.3,381.2 529.2,388.4 529.0,399.6 Z" fill="#8fe28c"/><path d="M500.4,399.6 C500.0,380.6 498.3,368.5 498.0,361.7 C499.0,368.5 501.3,380.6 501.9,399.6 Z" fill="#3cb44a"/><path d="M485.1,399.6 C485.1,388.2 485.1,380.9 485.4,376.8 C485.9,380.9 486.6,388.2 486.8,399.6 Z" fill="#3cb44a"/><path d="M510.4,399.6 C511.0,390.1 513.5,384.0 514.6,380.5 C514.4,384.0 512.5,390.1 512.1,399.6 Z" fill="#52c65a"/><path d="M506.5,399.6 C506.6,381.9 507.3,370.6 507.9,364.2 C508.3,370.6 508.6,381.9 508.6,399.6 Z" fill="#66d068"/><path d="M496.7,399.6 C497.4,387.9 500.4,380.4 501.8,376.2 C501.7,380.4 499.8,387.9 499.3,399.6 Z" fill="#44bc50"/><path d="M520.5,399.6 C520.2,391.2 518.7,385.8 518.5,382.7 C519.5,385.8 521.5,391.2 522.0,399.6 Z" fill="#52c65a"/><path d="M465.1,399.6 C464.7,384.2 463.1,374.4 463.0,368.8 C464.3,374.4 467.0,384.2 467.5,399.6 Z" fill="#3cb44a"/><path d="M543.1,399.6 C543.6,395.3 545.5,392.6 546.4,391.0 C546.3,392.6 545.0,395.3 544.6,399.6 Z" fill="#36b044"/><path d="M513.6,399.6 C513.3,388.1 512.6,380.7 512.7,376.6 C513.5,380.7 515.1,388.1 515.5,399.6 Z" fill="#3cb44a"/><path d="M500.7,399.6 C501.2,385.6 503.8,376.6 505.0,371.5 C504.9,376.6 503.3,385.6 502.9,399.6 Z" fill="#66d068"/><path d="M533.5,399.6 C533.1,389.5 531.9,383.0 532.0,379.4 C533.1,383.0 535.3,389.5 535.7,399.6 Z" fill="#44bc50"/><path d="M539.0,399.6 C539.2,394.3 540.1,390.9 540.8,389.0 C541.1,390.9 541.1,394.3 541.0,399.6 Z" fill="#36b044"/><path d="M522.2,399.6 C521.8,388.8 520.2,381.9 520.1,378.0 C521.3,381.9 524.0,388.8 524.5,399.6 Z" fill="#2a9e3a"/><path d="M536.5,399.6 C536.3,389.4 535.5,382.9 535.7,379.2 C536.7,382.9 538.5,389.4 538.9,399.6 Z" fill="#66d068"/><path d="M533.4,399.6 C533.0,390.9 531.3,385.3 531.2,382.2 C532.3,385.3 535.0,390.9 535.5,399.6 Z" fill="#3cb44a"/><path d="M539.8,399.6 C539.9,392.8 540.4,388.4 540.8,385.9 C541.1,388.4 541.3,392.8 541.3,399.6 Z" fill="#36b044"/><path d="M469.9,399.6 C469.9,389.8 470.2,383.4 470.6,379.9 C471.2,383.4 471.9,389.8 472.0,399.6 Z" fill="#36b044"/><path d="M510.6,399.6 C511.2,391.8 513.9,386.8 515.0,383.9 C514.7,386.8 512.7,391.8 512.2,399.6 Z" fill="#2a9e3a"/><path d="M533.2,399.6 C533.0,390.8 532.6,385.2 532.9,382.1 C533.7,385.2 535.1,390.8 535.3,399.6 Z" fill="#3cb44a"/><path d="M498.8,399.6 C498.5,384.9 497.8,375.5 497.9,370.2 C498.8,375.5 500.4,384.9 500.8,399.6 Z" fill="#36b044"/><path d="M478.2,399.6 C478.2,386.0 478.4,377.2 478.8,372.3 C479.4,377.2 480.0,386.0 480.1,399.6 Z" fill="#2a9e3a"/><path d="M511.7,399.6 C511.5,389.1 511.0,382.5 511.1,378.7 C511.9,382.5 513.2,389.1 513.4,399.6 Z" fill="#36b044"/><path d="M486.6,399.6 C486.8,390.8 488.1,385.1 489.0,381.9 C489.4,385.1 489.3,390.8 489.2,399.6 Z" fill="#66d068"/><path d="M481.6,399.6 C481.8,391.1 483.1,385.6 484.0,382.6 C484.4,385.6 484.3,391.1 484.2,399.6 Z" fill="#52c65a"/><path d="M511.5,399.6 C511.4,390.6 511.1,384.8 511.4,381.5 C512.1,384.8 513.3,390.6 513.5,399.6 Z" fill="#2a9e3a"/><path d="M524.4,399.6 C524.7,385.2 526.2,375.9 527.0,370.7 C527.3,375.9 526.8,385.2 526.7,399.6 Z" fill="#2a9e3a"/><path d="M522.7,399.6 C522.1,383.2 520.0,372.7 519.6,366.8 C520.9,372.7 523.8,383.2 524.5,399.6 Z" fill="#52c65a"/><path d="M489.4,399.6 C490.0,390.0 492.5,383.9 493.6,380.4 C493.3,383.9 491.6,390.0 491.1,399.6 Z" fill="#2a9e3a"/><path d="M492.0,399.6 C491.5,389.4 489.8,382.8 489.7,379.1 C491.0,382.8 493.8,389.4 494.4,399.6 Z" fill="#66d068"/><path d="M524.7,399.6 C524.7,390.4 525.0,384.4 525.3,381.1 C525.8,384.4 526.2,390.4 526.3,399.6 Z" fill="#36b044"/><path d="M503.9,399.6 C504.5,388.3 507.3,381.1 508.5,377.0 C508.2,381.1 506.1,388.3 505.6,399.6 Z" fill="#44bc50"/><path d="M473.7,399.6 C474.2,384.8 477.0,375.2 478.4,369.9 C478.3,375.2 476.6,384.8 476.2,399.6 Z" fill="#52c65a"/><path d="M518.4,399.6 C518.2,386.9 517.6,378.8 517.8,374.2 C518.7,378.8 520.2,386.9 520.5,399.6 Z" fill="#2a9e3a"/><path d="M485.8,399.6 C486.2,390.8 488.0,385.1 489.0,381.9 C489.2,385.1 488.5,390.8 488.3,399.6 Z" fill="#52c65a"/><path d="M499.4,399.6 C499.9,384.5 502.0,374.9 502.9,369.5 C502.8,374.9 501.3,384.5 501.0,399.6 Z" fill="#2a9e3a"/><path d="M486.8,399.6 C487.1,387.0 488.7,378.9 489.6,374.3 C489.8,378.9 489.3,387.0 489.1,399.6 Z" fill="#2a9e3a"/><path d="M486.9,399.6 C487.1,390.6 488.1,384.8 488.7,381.6 C488.9,384.8 488.5,390.6 488.4,399.6 Z" fill="#3cb44a"/><path d="M513.1,399.6 C513.1,388.2 513.2,380.9 513.6,376.8 C514.2,380.9 514.9,388.2 515.0,399.6 Z" fill="#66d068"/><path d="M483.0,399.6 C483.3,386.4 484.8,377.9 485.6,373.2 C485.6,377.9 484.8,386.4 484.6,399.6 Z" fill="#2a9e3a"/><path d="M487.2,399.6 C486.7,391.1 484.9,385.7 484.7,382.6 C485.9,385.7 488.7,391.1 489.2,399.6 Z" fill="#44bc50"/><path d="M493.0,399.6 C493.5,388.6 496.0,381.5 497.1,377.5 C497.0,381.5 495.4,388.6 495.0,399.6 Z" fill="#2a9e3a"/><path d="M496.4,399.6 C496.8,390.7 498.7,385.0 499.5,381.8 C499.4,385.0 498.2,390.7 497.9,399.6 Z" fill="#66d068"/><path d="M460.3,399.6 C459.9,391.8 458.7,386.7 458.8,383.9 C460.0,386.7 462.3,391.8 462.8,399.6 Z" fill="#2a9e3a"/><path d="M540.4,399.6 C540.8,390.0 542.4,383.8 543.2,380.4 C543.2,383.8 542.3,390.0 542.0,399.6 Z" fill="#2a9e3a"/><path d="M530.3,399.6 C530.6,385.7 532.3,376.7 533.3,371.7 C533.5,376.7 532.9,385.7 532.6,399.6 Z" fill="#44bc50"/><path d="M473.4,399.6 C474.1,388.3 477.0,381.0 478.3,376.9 C477.9,381.0 475.8,388.3 475.2,399.6 Z" fill="#3cb44a"/><path d="M503.3,399.6 C503.1,384.4 502.5,374.7 502.7,369.2 C503.7,374.7 505.3,384.4 505.6,399.6 Z" fill="#3cb44a"/><path d="M536.3,399.6 C536.2,389.6 535.9,383.2 536.2,379.6 C537.0,383.2 538.3,389.6 538.5,399.6 Z" fill="#44bc50"/><path d="M498.2,399.6 C498.2,381.8 498.6,370.3 499.0,363.9 C499.4,370.3 499.7,381.8 499.8,399.6 Z" fill="#36b044"/><path d="M518.2,399.6 C518.7,386.3 521.4,377.8 522.6,373.0 C522.5,377.8 520.9,386.3 520.5,399.6 Z" fill="#36b044"/><path d="M519.7,399.6 C519.4,392.0 518.4,387.1 518.6,384.4 C519.7,387.1 521.8,392.0 522.2,399.6 Z" fill="#36b044"/><path d="M503.9,399.6 C503.9,381.2 504.2,369.5 504.7,362.9 C505.2,369.5 505.9,381.2 506.0,399.6 Z" fill="#52c65a"/><path d="M520.2,399.6 C520.1,390.7 519.7,385.1 520.0,381.9 C520.9,385.1 522.2,390.7 522.4,399.6 Z" fill="#3cb44a"/><path d="M506.4,399.6 C506.8,390.5 508.9,384.6 509.9,381.3 C509.8,384.6 508.4,390.5 508.1,399.6 Z" fill="#44bc50"/><path d="M541.2,399.6 C541.2,391.0 541.3,385.4 541.6,382.3 C542.1,385.4 542.8,391.0 542.9,399.6 Z" fill="#3cb44a"/><path d="M527.5,399.6 C528.0,383.9 530.5,373.9 531.6,368.3 C531.6,373.9 530.1,383.9 529.7,399.6 Z" fill="#3cb44a"/><path d="M468.1,399.6 C467.9,390.8 467.4,385.1 467.6,381.9 C468.4,385.1 469.9,390.8 470.2,399.6 Z" fill="#66d068"/><path d="M491.5,399.6 C491.5,383.5 492.1,373.2 492.7,367.4 C493.4,373.2 494.0,383.5 494.0,399.6 Z" fill="#2a9e3a"/><path d="M487.8,399.6 C488.4,391.8 491.2,386.9 492.4,384.1 C492.3,386.9 490.6,391.8 490.1,399.6 Z" fill="#3cb44a"/><path d="M501.7,399.6 C501.4,381.1 500.2,369.2 500.3,362.6 C501.4,369.2 503.7,381.1 504.2,399.6 Z" fill="#36b044"/><path d="M522.2,399.6 C521.7,388.3 520.1,381.1 519.9,377.0 C520.9,381.1 523.4,388.3 523.9,399.6 Z" fill="#44bc50"/><path d="M543.3,399.6 C543.3,395.7 543.4,393.1 543.8,391.7 C544.6,393.1 545.5,395.7 545.7,399.6 Z" fill="#66d068"/><path d="M505.5,399.6 C505.5,381.3 505.6,369.6 506.0,363.0 C506.7,369.6 507.6,381.3 507.8,399.6 Z" fill="#36b044"/><path d="M508.1,399.6 C508.2,390.1 509.0,384.1 509.6,380.6 C510.0,384.1 510.2,390.1 510.2,399.6 Z" fill="#2a9e3a"/><path d="M462.8,399.6 C462.5,388.2 461.6,380.9 461.7,376.8 C462.6,380.9 464.5,388.2 464.8,399.6 Z" fill="#36b044"/><path d="M495.3,399.6 C494.7,385.3 492.5,376.2 492.1,371.1 C493.3,376.2 496.3,385.3 496.9,399.6 Z" fill="#66d068"/><path d="M468.1,399.6 C468.2,384.2 469.0,374.3 469.5,368.7 C469.7,374.3 469.6,384.2 469.5,399.6 Z" fill="#3cb44a"/><path d="M522.2,399.6 C521.9,389.9 520.4,383.8 520.4,380.3 C521.5,383.8 524.0,389.9 524.5,399.6 Z" fill="#2a9e3a"/><path d="M472.0,399.6 C471.6,385.8 470.2,377.0 470.1,372.0 C471.3,377.0 473.8,385.8 474.3,399.6 Z" fill="#66d068"/><path d="M538.1,399.6 C538.3,389.8 539.7,383.5 540.6,380.0 C541.0,383.5 540.8,389.8 540.6,399.6 Z" fill="#66d068"/><path d="M525.8,399.6 C525.9,382.2 526.4,371.1 527.0,364.8 C527.6,371.1 528.2,382.2 528.3,399.6 Z" fill="#2a9e3a"/><path d="M499.3,399.6 C499.6,385.7 501.2,376.8 501.9,371.7 C501.9,376.8 501.0,385.7 500.7,399.6 Z" fill="#66d068"/><path d="M517.3,399.6 C516.9,386.9 515.4,378.8 515.3,374.3 C516.5,378.8 519.0,386.9 519.5,399.6 Z" fill="#36b044"/><path d="M490.5,399.6 C490.0,391.6 488.1,386.4 487.8,383.5 C488.9,386.4 491.5,391.6 492.1,399.6 Z" fill="#2a9e3a"/><path d="M487.1,399.6 C487.5,387.8 489.7,380.3 490.7,376.0 C490.8,380.3 489.7,387.8 489.4,399.6 Z" fill="#52c65a"/><path d="M484.2,399.6 C484.8,388.2 487.5,380.9 488.6,376.8 C488.4,380.9 486.6,388.2 486.2,399.6 Z" fill="#36b044"/><path d="M516.3,399.6 C515.8,387.7 514.2,380.1 514.0,375.8 C515.0,380.1 517.5,387.7 518.0,399.6 Z" fill="#44bc50"/><path d="M485.1,399.6 C485.5,391.8 487.6,386.7 488.7,383.9 C488.8,386.7 487.7,391.8 487.4,399.6 Z" fill="#3cb44a"/><path d="M472.2,399.6 C472.6,383.5 474.4,373.2 475.2,367.5 C475.1,373.2 474.0,383.5 473.7,399.6 Z" fill="#66d068"/><path d="M481.1,399.6 C481.5,388.6 483.5,381.6 484.5,377.7 C484.7,381.6 483.9,388.6 483.6,399.6 Z" fill="#3cb44a"/><path d="M476.0,399.6 C476.3,381.2 477.8,369.5 478.7,362.9 C479.0,369.5 478.5,381.2 478.3,399.6 Z" fill="#52c65a"/><path d="M498.3,399.6 C498.8,384.3 501.3,374.5 502.5,369.0 C502.4,374.5 500.8,384.3 500.4,399.6 Z" fill="#3cb44a"/><path d="M517.3,399.6 C517.7,387.4 519.6,379.6 520.5,375.2 C520.4,379.6 519.3,387.4 519.0,399.6 Z" fill="#3cb44a"/><path d="M522.8,399.6 C523.1,388.1 524.8,380.7 525.7,376.6 C525.8,380.7 525.0,388.1 524.7,399.6 Z" fill="#2a9e3a"/><path d="M515.3,399.6 C515.4,388.7 515.8,381.8 516.4,377.8 C517.0,381.8 517.5,388.7 517.6,399.6 Z" fill="#3cb44a"/><path d="M502.2,399.6 C502.2,372.6 502.5,355.3 503.0,345.6 C503.7,355.3 504.6,372.6 504.8,399.6 Z" fill="#3aae46"/><path d="M475.8,399.6 C475.9,372.1 476.8,354.5 477.5,344.6 C478.0,354.5 478.3,372.1 478.2,399.6 Z" fill="#3aae46"/><path d="M485.2,399.6 C485.5,380.6 487.1,368.4 488.0,361.6 C488.3,368.4 487.9,380.6 487.8,399.6 Z" fill="#3aae46"/><path d="M461.8,399.6 C461.7,378.1 461.6,364.3 462.0,356.6 C462.8,364.3 464.0,378.1 464.2,399.6 Z" fill="#3aae46"/><path d="M526.8,399.6 C527.0,375.1 528.6,359.4 529.5,350.6 C529.8,359.4 529.4,375.1 529.2,399.6 Z" fill="#3aae46"/><path d="M510.8,399.6 C510.4,381.1 509.4,369.3 509.5,362.6 C510.6,369.3 512.8,381.1 513.2,399.6 Z" fill="#3aae46"/><path d="M505.8,399.6 C506.0,379.1 507.2,366.0 508.0,358.6 C508.4,366.0 508.3,379.1 508.2,399.6 Z" fill="#3aae46"/><path d="M541.8,399.6 C542.1,387.6 544.0,379.9 545.0,375.6 C545.2,379.9 544.5,387.6 544.2,399.6 Z" fill="#3aae46"/><path d="M518.8,399.6 C519.0,382.6 520.2,371.7 521.0,365.6 C521.4,371.7 521.3,382.6 521.2,399.6 Z" fill="#3aae46"/><path d="M493.8,399.6 C494.2,378.6 496.4,365.2 497.5,357.6 C497.6,365.2 496.6,378.6 496.2,399.6 Z" fill="#3aae46"/><path d="M532.2,399.6 C532.0,381.6 531.3,370.1 531.5,363.6 C532.5,370.1 534.4,381.6 534.8,399.6 Z" fill="#3aae46"/><path d="M467.8,399.6 C468.1,381.1 470.0,369.3 471.0,362.6 C471.2,369.3 470.5,381.1 470.2,399.6 Z" fill="#3aae46"/><path d="M536.8,399.6 C536.7,386.1 536.6,377.5 537.0,372.6 C537.8,377.5 539.0,386.1 539.2,399.6 Z" fill="#3aae46"/><path d="M522.2,399.6 C522.1,383.1 521.7,372.5 522.0,366.6 C522.9,372.5 524.5,383.1 524.8,399.6 Z" fill="#3aae46"/><path d="M471.8,399.6 C471.5,383.1 470.8,372.5 471.0,366.6 C472.0,372.5 473.9,383.1 474.2,399.6 Z" fill="#3aae46"/><path d="M497.8,399.6 C497.5,381.6 496.8,370.1 497.0,363.6 C498.0,370.1 499.9,381.6 500.2,399.6 Z" fill="#3aae46"/>
<g stroke="#2f9a3c" stroke-width="1.6" opacity="0.45" fill="none"><path d="M538.9,409.5 L540.1,400"/><path d="M497.5,406.7 L496.2,400"/><path d="M536.0,406.2 L534.7,400"/><path d="M510.8,408.5 L509.4,400"/><path d="M490.3,409.5 L489.3,400"/><path d="M493.0,407.5 L493.0,400"/><path d="M534.0,409.5 L534.8,400"/><path d="M528.3,406.1 L527.1,400"/><path d="M528.5,408.9 L528.3,400"/><path d="M532.1,407.5 L532.0,400"/><path d="M527.0,410.3 L525.7,400"/><path d="M483.8,411.2 L484.2,400"/><path d="M494.7,411.4 L494.8,400"/><path d="M533.5,407.6 L533.8,400"/><path d="M493.3,406.0 L493.8,400"/><path d="M504.2,408.0 L503.6,400"/><path d="M496.3,409.8 L497.7,400"/><path d="M521.2,411.7 L520.6,400"/><path d="M465.1,406.9 L466.1,400"/><path d="M471.0,410.6 L472.5,400"/><path d="M526.0,408.9 L525.1,400"/><path d="M530.2,407.1 L528.7,400"/><path d="M501.3,411.5 L502.8,400"/><path d="M504.1,406.2 L504.0,400"/><path d="M498.1,409.9 L497.7,400"/><path d="M495.5,411.1 L496.4,400"/><path d="M483.0,409.3 L481.7,400"/><path d="M503.2,406.1 L503.6,400"/><path d="M494.0,411.6 L494.1,400"/><path d="M476.3,410.5 L476.0,400"/><path d="M507.5,410.4 L507.2,400"/><path d="M505.3,406.3 L504.7,400"/><path d="M468.8,409.0 L468.8,400"/><path d="M479.9,408.2 L478.5,400"/><path d="M538.9,411.2 L538.3,400"/><path d="M542.3,410.4 L542.3,400"/><path d="M487.5,410.2 L488.5,400"/><path d="M526.1,408.7 L527.3,400"/><path d="M480.4,410.8 L481.8,400"/><path d="M466.3,407.0 L466.8,400"/></g>
<g fill="#e4e4e4" stroke="#2c2c2c" stroke-width="0.7"><circle cx="444.0" cy="399.5" r="1.9"/><circle cx="447.9" cy="399.0" r="1.9"/><circle cx="451.8" cy="398.8" r="1.9"/><circle cx="455.7" cy="399.5" r="1.9"/><circle cx="459.6" cy="399.4" r="1.9"/><circle cx="463.5" cy="399.3" r="1.9"/><circle cx="467.4" cy="398.5" r="1.9"/><circle cx="471.3" cy="399.0" r="1.9"/><circle cx="475.2" cy="398.7" r="1.9"/><circle cx="479.1" cy="398.6" r="1.9"/><circle cx="483.0" cy="398.4" r="1.9"/><circle cx="486.9" cy="398.7" r="1.9"/><circle cx="490.8" cy="398.3" r="1.9"/><circle cx="494.7" cy="398.1" r="1.9"/><circle cx="498.6" cy="397.9" r="1.9"/><circle cx="502.5" cy="397.8" r="1.9"/><circle cx="506.4" cy="398.0" r="1.9"/><circle cx="510.3" cy="398.2" r="1.9"/><circle cx="514.2" cy="398.0" r="1.9"/><circle cx="518.1" cy="398.2" r="1.9"/><circle cx="522.0" cy="398.1" r="1.9"/><circle cx="525.9" cy="398.0" r="1.9"/><circle cx="529.8" cy="397.7" r="1.9"/><circle cx="533.7" cy="397.6" r="1.9"/><circle cx="537.6" cy="397.6" r="1.9"/><circle cx="541.5" cy="397.5" r="1.9"/><circle cx="545.4" cy="397.1" r="1.9"/><circle cx="549.3" cy="397.3" r="1.9"/><circle cx="553.2" cy="397.1" r="1.9"/><circle cx="557.1" cy="397.1" r="1.9"/><circle cx="561.0" cy="397.0" r="1.9"/><circle cx="564.9" cy="396.9" r="1.9"/></g>
<path d="M555.5,480 C562,479 570,480 578,478.2 C588,475.5 596,477 604,475 C612,473 620,476 628,473.8 C636,472.5 644,474 650,476 C656,478 661,480 665,482 L665,515.2 L555.5,515.2 Z" fill="url(#water)"/>
<path d="M570,478.5 C578,477 588,475.5 596,476.5 C604,475 612,473 620,475.5 C628,473.5 636,472.5 644,474 C650,476 656,478 662,481" stroke="#d8d8d8" stroke-width="0.9" stroke-dasharray="1.6 1.6" fill="none"/>
<path d="M555.3,475 V515.2" stroke="#5a5a5a" stroke-width="1.5"/>
<path d="M665,467 V474 M665,488 V515.2" stroke="#5a5a5a" stroke-width="1.5"/>
<path d="M665,473.5 H681.5 M665,488 H681.5" stroke="#555" stroke-width="2"/>
<path d="M666.3,481.6 C672,480.8 678,480.8 682,481.8 C689,484 693.6,491 696.2,500.2" stroke="#0c0c0c" stroke-width="2.5" fill="none" stroke-linecap="round"/>
<path d="M691.4,495.8 L696.7,501.7 L697.8,488.3" stroke="#0c0c0c" stroke-width="2.1" fill="none" stroke-linecap="round"/>
<path d="M692.2,496.4 L696.7,501 L697.4,492 Z" fill="#0c0c0c"/>
<path d="M539.2,470.4 C546,470.3 552,470.4 556,471.4 C563,473.4 567.4,480 569.6,489.8" stroke="#0c0c0c" stroke-width="2.5" fill="none" stroke-linecap="round"/>
<path d="M565,486.2 L570,491.2 L571.3,477.2" stroke="#0c0c0c" stroke-width="2.1" fill="none" stroke-linecap="round"/>
<path d="M565.8,486.6 L570,490.6 L570.9,481 Z" fill="#0c0c0c"/>
</g>
<ellipse cx="120.6" cy="560.5" rx="10.5" ry="18.7" fill="none" stroke="#bfad94" stroke-width="1.6"/>
<text class="num" x="120.6" y="569.4" text-anchor="middle" transform="translate(120.6 0) scale(0.64 1) translate(-120.6 0)" style="font-size:25.5px">1</text>
<ellipse cx="286.5" cy="559.3" rx="10.5" ry="18.7" fill="none" stroke="#bfad94" stroke-width="1.6"/>
<text class="num" x="286.5" y="568.2" text-anchor="middle" transform="translate(286.5 0) scale(0.64 1) translate(-286.5 0)" style="font-size:25.5px">2</text>
<ellipse cx="386.2" cy="558.3" rx="10.5" ry="18.7" fill="none" stroke="#bfad94" stroke-width="1.6"/>
<text class="num" x="386.2" y="567.2" text-anchor="middle" transform="translate(386.2 0) scale(0.64 1) translate(-386.2 0)" style="font-size:25.5px">3</text>
<ellipse cx="499.2" cy="557.6" rx="10.5" ry="18.7" fill="none" stroke="#bfad94" stroke-width="1.6"/>
<text class="num" x="499.2" y="566.5" text-anchor="middle" transform="translate(499.2 0) scale(0.64 1) translate(-499.2 0)" style="font-size:25.5px">4</text>
<ellipse cx="633" cy="556.7" rx="10.5" ry="18.7" fill="none" stroke="#bfad94" stroke-width="1.6"/>
<text class="num" x="633" y="565.6" text-anchor="middle" transform="translate(633 0) scale(0.64 1) translate(-633 0)" style="font-size:25.5px">5</text>
</svg></body></html>
